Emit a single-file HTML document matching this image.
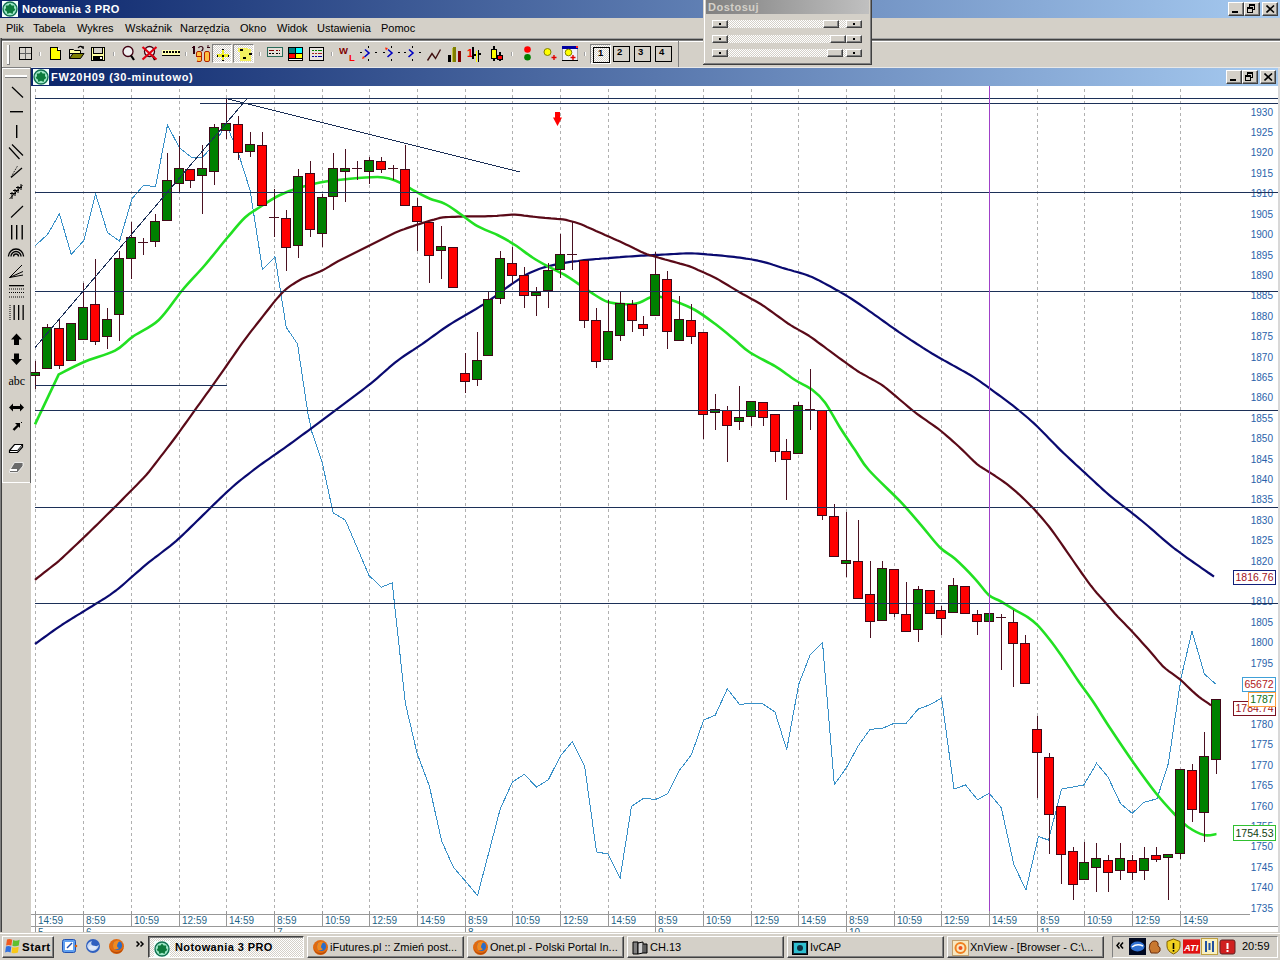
<!DOCTYPE html><html><head><meta charset="utf-8"><title>Notowania 3 PRO</title><style>
*{margin:0;padding:0;box-sizing:border-box}
html,body{width:1280px;height:960px;overflow:hidden}
body{position:relative;background:#D4D0C8;font-family:"Liberation Sans",sans-serif;font-size:11px;color:#000}
.a{position:absolute}
.btn{position:absolute;background:#D4D0C8;border-top:1px solid #fff;border-left:1px solid #fff;border-right:1px solid #404040;border-bottom:1px solid #404040;box-shadow:inset -1px -1px 0 #808080}
.tb{position:absolute;white-space:nowrap}
.menu span{position:absolute;top:22px;font-size:11px;line-height:13px}
.sep{position:absolute;width:2px;height:4px;top:52px;border-left:1px solid #808080;border-right:1px solid #fff}
.tk{position:absolute;top:936px;height:22px;background:#D4D0C8;border-top:1px solid #fff;border-left:1px solid #fff;border-right:1px solid #404040;border-bottom:1px solid #404040;box-shadow:inset -1px -1px 0 #808080;font-size:11px;line-height:20px;white-space:nowrap;overflow:hidden}
</style></head><body>
<div class="a" style="left:0;top:0;width:1280px;height:18px;background:linear-gradient(to right,#0A246A,#A6CAF0)"></div>
<svg class="a" style="left:2px;top:1px" width="16" height="16" viewBox="0 0 16 16"><rect width="16" height="16" fill="#F4FFFC"/><circle cx="8" cy="8" r="7" fill="#9FE8C8" stroke="#107050" stroke-width="1.4"/><path d="M8 2.6 L9.6 4.6 L12.2 4.4 L12 7 L13.4 9 L11.2 10.4 L10.6 13 L8 11.8 L5.4 13 L4.8 10.4 L2.6 9 L4 7 L3.8 4.4 L6.4 4.6Z" fill="#0C7A3C"/></svg>
<div class="tb" style="left:22px;top:2px;font-weight:bold;color:#fff;font-size:11px;line-height:14px;letter-spacing:0.4px">Notowania 3 PRO</div>
<div class="btn" style="left:1228px;top:2px;width:16px;height:14px"><div class="a" style="left:3px;top:8px;width:6px;height:2px;background:#000"></div></div><div class="btn" style="left:1244px;top:2px;width:16px;height:14px"><svg class="a" style="left:2px;top:1px" width="10" height="10" viewBox="0 0 10 10" shape-rendering="crispEdges"><rect x="2.5" y="0.5" width="5" height="5" fill="none" stroke="#000"/><rect x="2" y="1" width="6" height="1" fill="#000"/><rect x="0.5" y="3.5" width="5" height="5" fill="#D4D0C8" stroke="#000"/><rect x="0" y="4" width="6" height="1" fill="#000"/></svg></div><div class="btn" style="left:1262px;top:2px;width:16px;height:14px"><svg class="a" style="left:3px;top:2px" width="9" height="8" viewBox="0 0 9 8"><path d="M0.5 0.5L8 7.5M8 0.5L0.5 7.5" stroke="#000" stroke-width="1.6"/></svg></div>
<div class="menu">
<span style="left:6px">Plik</span>
<span style="left:33px">Tabela</span>
<span style="left:77px">Wykres</span>
<span style="left:125px">Wskaźnik</span>
<span style="left:180px">Narzędzia</span>
<span style="left:240px">Okno</span>
<span style="left:277px">Widok</span>
<span style="left:317px">Ustawienia</span>
<span style="left:381px">Pomoc</span>
</div>
<div class="a" style="left:0;top:38px;width:1280px;height:1px;background:#A0A0A0"></div>
<div class="a" style="left:0;top:39px;width:1280px;height:1px;background:#404040"></div>
<div class="a" style="left:0;top:40px;width:1280px;height:1px;background:#808080"></div>
<div class="a" style="left:0;top:67px;width:1280px;height:1px;background:#E8E8E8"></div>
<div class="a" style="left:2px;top:67px;width:29px;height:1px;background:#808080"></div>
<div class="a" style="left:2px;top:41px;width:1278px;height:1px;background:#fff"></div><div class="a" style="left:2px;top:41px;width:1px;height:26px;background:#fff"></div><div class="a" style="left:678px;top:41px;width:1px;height:26px;background:#808080"></div><div class="a" style="left:7px;top:45px;width:2px;height:19px;background:#fff"></div><div class="a" style="left:9px;top:45px;width:1px;height:20px;background:#808080"></div><div class="a" style="left:7px;top:64px;width:3px;height:1px;background:#808080"></div><svg class="a" style="left:19px;top:47px" width="13" height="13" viewBox="0 0 13 13" shape-rendering="crispEdges"><rect x="0" y="0" width="13" height="13" fill="#000"/><rect x="1" y="1" width="11" height="11" fill="#D8D4CC"/><rect x="6" y="1" width="1" height="11" fill="#606060"/><rect x="1" y="6" width="11" height="1" fill="#606060"/></svg><div class="a" style="left:39px;top:52px;width:1px;height:4px;background:#A0A0A0"></div><div class="a" style="left:40px;top:52px;width:1px;height:4px;background:#fff"></div><svg class="a" style="left:50px;top:47px" width="11" height="13" viewBox="0 0 11 13" shape-rendering="crispEdges"><path d="M0.5 0.5H7.5L10.5 3.5V12.5H0.5Z" fill="#FFFF00" stroke="#000"/><path d="M7.5 0.5V3.5H10.5" fill="#fff" stroke="#000"/></svg><svg class="a" style="left:69px;top:45px" width="16" height="15" viewBox="0 0 16 15"><path d="M9 3 Q11 0 14 2.5" stroke="#000" fill="none" stroke-width="1.2"/><path d="M12.5 2.5L14.5 3.5L14 1" stroke="#000" fill="none"/><path d="M0.5 4.5H4.5L5.5 5.5H11.5V8.5H0.5Z" fill="#FFFFA0" stroke="#000"/><path d="M0.5 13.5V4.5" stroke="#000"/><path d="M0.5 13.5L4 8.5H15L11.5 13.5Z" fill="#808000" stroke="#000"/></svg><svg class="a" style="left:91px;top:47px" width="14" height="14" viewBox="0 0 14 14" shape-rendering="crispEdges"><rect x="0" y="0" width="14" height="14" fill="#000"/><rect x="1" y="1" width="12" height="12" fill="#FFFFA0"/><rect x="3" y="1" width="8" height="5" fill="#D4D0C8"/><rect x="3" y="6" width="8" height="1" fill="#000"/><rect x="2" y="9" width="10" height="4" fill="#000"/><rect x="9" y="10" width="2" height="2" fill="#fff"/><rect x="2" y="1" width="1" height="6" fill="#000"/><rect x="11" y="1" width="1" height="6" fill="#000"/></svg><div class="a" style="left:113px;top:52px;width:1px;height:4px;background:#A0A0A0"></div><div class="a" style="left:114px;top:52px;width:1px;height:4px;background:#fff"></div><svg class="a" style="left:121px;top:45px" width="16" height="17" viewBox="0 0 16 17"><circle cx="7" cy="6.5" r="5" fill="#F0F0F0" stroke="#400010" stroke-width="1.3"/><path d="M10 10.5L13 15" stroke="#000" stroke-width="2.2"/></svg><svg class="a" style="left:141px;top:45px" width="18" height="17" viewBox="0 0 18 17"><circle cx="8.5" cy="6.5" r="5" fill="#F0F0F0" stroke="#400010" stroke-width="1.3"/><path d="M12 11L14 15" stroke="#000" stroke-width="2.2"/><path d="M1.5 2L15.5 14.5M15.5 2L1.5 14.5" stroke="#E00010" stroke-width="2.2"/></svg><svg class="a" style="left:162px;top:49px" width="18" height="8" viewBox="0 0 18 8" shape-rendering="crispEdges"><rect x="0" y="1" width="18" height="5" fill="#FFFFB0"/><rect x="1" y="2" width="2" height="2" fill="#000"/><rect x="4" y="2" width="2" height="2" fill="#000"/><rect x="7" y="2" width="2" height="2" fill="#000"/><rect x="10" y="2" width="2" height="2" fill="#000"/><rect x="13" y="2" width="2" height="2" fill="#000"/><rect x="16" y="2" width="2" height="2" fill="#000"/><rect x="0" y="6" width="18" height="1" fill="#000"/></svg><div class="a" style="left:185px;top:52px;width:1px;height:4px;background:#A0A0A0"></div><div class="a" style="left:186px;top:52px;width:1px;height:4px;background:#fff"></div><svg class="a" style="left:192px;top:45px" width="20" height="18" viewBox="0 0 20 18"><rect x="1" y="1" width="2" height="8" fill="#300010"/><rect x="0" y="2" width="1" height="1" fill="#300010"/><path d="M6.5 3Q7 1.5 9 1.5Q11 1.5 11 3.5Q11 5 9.5 6" stroke="#300010" stroke-width="1.2" fill="none"/><path d="M15.5 1.5L16.5 0.5M15 2.5H18" stroke="#300010" stroke-width="1.2" fill="none"/><rect x="4.5" y="6.5" width="5" height="10" rx="1.5" fill="#FFC040" stroke="#B02000"/><rect x="12.5" y="6.5" width="5" height="10" rx="1.5" fill="#FFC040" stroke="#B02000"/><rect x="5" y="11" width="4" height="1" fill="#B02000"/><rect x="4" y="12" width="1" height="4" fill="#D4D0C8"/></svg><div class="a" style="left:212px;top:44px;width:20px;height:19px;background:repeating-conic-gradient(#fff 0 25%,#D4D0C8 0 50%) 0 0/2px 2px;border-top:1px solid #808080;border-left:1px solid #808080;border-right:1px solid #fff;border-bottom:1px solid #fff"></div><svg class="a" style="left:212px;top:44px" width="20" height="19" viewBox="0 0 20 19" shape-rendering="crispEdges"><rect x="10" y="5" width="2" height="12" fill="#F0F020"/><rect x="5" y="10" width="12" height="3" fill="#F0F020"/><rect x="10" y="5" width="2" height="1" fill="#000"/><rect x="10" y="11" width="2" height="2" fill="#000"/><rect x="5" y="11" width="1" height="2" fill="#000"/><rect x="16" y="11" width="1" height="2" fill="#000"/><rect x="10" y="16" width="2" height="1" fill="#000"/></svg><div class="a" style="left:233px;top:44px;width:21px;height:19px;background:repeating-conic-gradient(#fff 0 25%,#D4D0C8 0 50%) 0 0/2px 2px;border-top:1px solid #808080;border-left:1px solid #808080;border-right:1px solid #fff;border-bottom:1px solid #fff"></div><svg class="a" style="left:236px;top:47px" width="16" height="15" viewBox="0 0 16 15" shape-rendering="crispEdges"><rect x="4" y="2" width="11" height="12" fill="#F4F060"/><rect x="2" y="1" width="10" height="4" fill="#F4F060"/><rect x="4" y="2" width="3" height="2" fill="#000"/><rect x="13" y="6" width="3" height="2" fill="#000"/><rect x="7" y="10" width="3" height="2" fill="#000"/></svg><div class="a" style="left:259px;top:52px;width:1px;height:4px;background:#A0A0A0"></div><div class="a" style="left:260px;top:52px;width:1px;height:4px;background:#fff"></div><svg class="a" style="left:267px;top:47px" width="16" height="10" viewBox="0 0 16 10" shape-rendering="crispEdges"><rect x="0" y="0" width="16" height="10" fill="#2A6A5A"/><rect x="1" y="1" width="14" height="8" fill="#E4E0D8"/><rect x="2" y="3" width="5" height="1" fill="#800000"/><rect x="9" y="3" width="2" height="1" fill="#800000"/><rect x="12" y="3" width="1" height="1" fill="#800000"/><rect x="2" y="6" width="2" height="1" fill="#000"/><rect x="5" y="6" width="2" height="1" fill="#000"/><rect x="9" y="6" width="2" height="1" fill="#000"/><rect x="12" y="6" width="1" height="1" fill="#000"/></svg><svg class="a" style="left:288px;top:47px" width="15" height="14" viewBox="0 0 15 14" shape-rendering="crispEdges"><rect x="0" y="0" width="15" height="14" fill="#000"/><rect x="1" y="1" width="6" height="5" fill="#008080"/><rect x="8" y="1" width="6" height="5" fill="#00FFFF"/><rect x="1" y="7" width="6" height="4" fill="#FF0000"/><rect x="8" y="7" width="6" height="4" fill="#FFFF00"/><rect x="1" y="12" width="13" height="1" fill="#fff"/></svg><svg class="a" style="left:309px;top:47px" width="15" height="14" viewBox="0 0 15 14" shape-rendering="crispEdges"><rect x="0" y="0" width="15" height="14" fill="#000"/><rect x="1" y="1" width="13" height="12" fill="#E8E4E0"/><rect x="3" y="3" width="2" height="1" fill="#008000"/><rect x="6" y="3" width="2" height="1" fill="#008000"/><rect x="9" y="3" width="4" height="1" fill="#008000"/><rect x="3" y="6" width="2" height="1" fill="#A02020"/><rect x="6" y="6" width="2" height="1" fill="#A02020"/><rect x="9" y="6" width="4" height="1" fill="#A02020"/><rect x="3" y="9" width="2" height="1" fill="#0000A0"/><rect x="6" y="9" width="2" height="1" fill="#0000A0"/><rect x="9" y="9" width="4" height="1" fill="#0000A0"/></svg><div class="a" style="left:331px;top:52px;width:1px;height:4px;background:#A0A0A0"></div><div class="a" style="left:332px;top:52px;width:1px;height:4px;background:#fff"></div><svg class="a" style="left:339px;top:46px" width="18" height="16" viewBox="0 0 18 16"><text x="0" y="8" font-family="Liberation Sans" font-weight="bold" font-size="9.5" fill="#800000">W</text><text x="10" y="15" font-family="Liberation Sans" font-weight="bold" font-size="9.5" fill="#FF0000">L</text></svg><svg class="a" style="left:360px;top:46px" width="17" height="15" viewBox="0 0 17 15"><path d="M5 3.5L9 7L4.5 11" stroke="#0000C0" stroke-width="1.6" fill="none"/><rect x="8" y="0" width="1" height="2" fill="#000"/><rect x="8" y="13" width="1" height="2" fill="#000"/><rect x="0" y="6" width="2" height="1" fill="#000"/><rect x="15" y="6" width="2" height="1" fill="#000"/><path d="M2 13L5 12L3 10Z" fill="#FF2000"/></svg><svg class="a" style="left:383px;top:46px" width="17" height="15" viewBox="0 0 17 15"><path d="M5 3.5L9 7L4.5 11" stroke="#0000C0" stroke-width="1.6" fill="none"/><rect x="8" y="0" width="1" height="2" fill="#000"/><rect x="8" y="13" width="1" height="2" fill="#000"/><rect x="0" y="6" width="2" height="1" fill="#000"/><rect x="15" y="6" width="2" height="1" fill="#000"/><path d="M2 1.5L5 2L3 4.5Z" fill="#FF2000"/></svg><svg class="a" style="left:404px;top:46px" width="17" height="15" viewBox="0 0 17 15"><path d="M5 3.5L9 7L4.5 11" stroke="#0000C0" stroke-width="1.6" fill="none"/><rect x="8" y="0" width="1" height="2" fill="#000"/><rect x="8" y="13" width="1" height="2" fill="#000"/><rect x="0" y="6" width="2" height="1" fill="#000"/><rect x="15" y="6" width="2" height="1" fill="#000"/></svg><svg class="a" style="left:426px;top:48px" width="16" height="14" viewBox="0 0 16 14"><path d="M1.5 12.5L6 5.5L9.5 10.5L14.5 1.5" stroke="#401010" stroke-width="1.4" fill="none"/></svg><svg class="a" style="left:447px;top:47px" width="16" height="16" viewBox="0 0 16 16" shape-rendering="crispEdges"><rect x="1" y="8" width="3" height="7" fill="#000"/><rect x="6" y="0" width="3" height="15" fill="#808000"/><rect x="5" y="1" width="1" height="14" fill="#C0C040"/><rect x="11" y="4" width="3" height="11" fill="#800000"/></svg><svg class="a" style="left:467px;top:46px" width="16" height="17" viewBox="0 0 16 17" shape-rendering="crispEdges"><text x="0" y="11" font-family="Liberation Sans" font-weight="bold" font-size="11" fill="#FF0000">1</text><rect x="5" y="1" width="2" height="12" fill="#000"/><rect x="7" y="8" width="2" height="2" fill="#000"/><rect x="9" y="5" width="1" height="11" fill="#FFFF00"/><rect x="11" y="4" width="1" height="12" fill="#000"/><rect x="12" y="7" width="2" height="2" fill="#000"/></svg><svg class="a" style="left:490px;top:46px" width="14" height="16" viewBox="0 0 14 16" shape-rendering="crispEdges"><rect x="3" y="0" width="2" height="15" fill="#000"/><rect x="1" y="3" width="6" height="10" fill="#000"/><rect x="2" y="4" width="4" height="8" fill="#FFFF00"/><rect x="9" y="6" width="2" height="9" fill="#000"/><rect x="7" y="9" width="6" height="5" fill="#000"/><rect x="8" y="10" width="4" height="3" fill="#FF0000"/></svg><div class="a" style="left:511px;top:52px;width:1px;height:4px;background:#A0A0A0"></div><div class="a" style="left:512px;top:52px;width:1px;height:4px;background:#fff"></div><svg class="a" style="left:523px;top:45px" width="9" height="17" viewBox="0 0 9 17"><circle cx="4.5" cy="4.5" r="3.3" fill="#FF0000"/><circle cx="4.5" cy="12.3" r="3.3" fill="#008000"/></svg><svg class="a" style="left:543px;top:47px" width="14" height="14" viewBox="0 0 14 14"><circle cx="4.5" cy="5" r="3.5" fill="#FFFF00" stroke="#808000"/><path d="M8.5 10.5H13.5M11 8V13" stroke="#E00000" stroke-width="1.4"/></svg><svg class="a" style="left:562px;top:46px" width="16" height="16" viewBox="0 0 16 16"><rect x="0" y="0" width="16" height="15" fill="#A0A0A0"/><rect x="1" y="1" width="14" height="13" fill="#F0F0F8"/><rect x="0" y="0" width="16" height="3" fill="#0000A0"/><rect x="14" y="0" width="2" height="2" fill="#FF2020"/><rect x="0" y="14" width="16" height="1" fill="#000"/><circle cx="6.5" cy="6.5" r="3.3" fill="#FFFF00" stroke="#808000"/><path d="M8.5 11.5H13.5M11 9V14" stroke="#E00000" stroke-width="1.4"/></svg><div class="a" style="left:584px;top:52px;width:1px;height:4px;background:#A0A0A0"></div><div class="a" style="left:585px;top:52px;width:1px;height:4px;background:#fff"></div><div class="a" style="left:590px;top:44px;width:21px;height:20px;background:repeating-conic-gradient(#fff 0 25%,#D4D0C8 0 50%) 0 0/2px 2px;border-top:1px solid #808080;border-left:1px solid #808080;border-right:1px solid #fff;border-bottom:1px solid #fff"></div><svg class="a" style="left:593px;top:47px" width="17" height="16" viewBox="0 0 17 16"><rect x="0.5" y="0.5" width="16" height="15" fill="none" stroke="#000"/><text x="5" y="9" font-family="Liberation Sans" font-weight="bold" font-size="9.5" fill="#000">1</text></svg><svg class="a" style="left:613px;top:46px" width="17" height="16" viewBox="0 0 17 16"><rect x="0.5" y="0.5" width="16" height="15" fill="none" stroke="#000"/><text x="4" y="9" font-family="Liberation Sans" font-weight="bold" font-size="9.5" fill="#000">2</text></svg><svg class="a" style="left:634px;top:46px" width="17" height="16" viewBox="0 0 17 16"><rect x="0.5" y="0.5" width="16" height="15" fill="none" stroke="#000"/><text x="4" y="9" font-family="Liberation Sans" font-weight="bold" font-size="9.5" fill="#000">3</text></svg><svg class="a" style="left:655px;top:46px" width="17" height="16" viewBox="0 0 17 16"><rect x="0.5" y="0.5" width="16" height="15" fill="none" stroke="#000"/><text x="4" y="9" font-family="Liberation Sans" font-weight="bold" font-size="9.5" fill="#000">4</text></svg>
<div class="a" style="left:0;top:38px;width:1px;height:895px;background:#808080"></div>
<div class="a" style="left:1px;top:38px;width:1px;height:895px;background:#404040"></div>
<div class="a" style="left:2px;top:68px;width:29px;height:415px;background:#D4D0C8"></div><div class="a" style="left:2px;top:68px;width:1px;height:415px;background:#fff"></div><div class="a" style="left:2px;top:68px;width:28px;height:1px;background:#fff"></div><div class="a" style="left:30px;top:68px;width:1px;height:415px;background:#606060"></div><div class="a" style="left:2px;top:482px;width:28px;height:1px;background:#fff"></div><div class="a" style="left:5px;top:75px;width:22px;height:1px;background:#fff"></div><div class="a" style="left:5px;top:76px;width:22px;height:1px;background:#fff"></div><div class="a" style="left:5px;top:77px;width:22px;height:1px;background:#808080"></div><svg class="a" style="left:0;top:0" width="31" height="483" viewBox="0 0 31 483"><path d="M12 87L23 97.5" stroke="#000" stroke-width="1.2"/><rect x="10" y="111" width="13" height="1.4" fill="#000"/><rect x="16" y="125" width="1.4" height="13" fill="#000"/><path d="M9 147.5L19.5 159M12 144.5L23 155.5" stroke="#000" stroke-width="1.2"/><path d="M11 177.5L22 168" stroke="#000" stroke-width="1.2"/><path d="M11 177L17.5 166" stroke="#000" stroke-dasharray="1,1"/><path d="M9.5 199L22.5 185M10 193.5H16M13 190.5H19M16 187.5H22M12 199V192M15 196V189M18 193V186M21 190V184" stroke="#000" stroke-width="1"/><path d="M11 217.5L23 206" stroke="#000" stroke-width="1.1"/><rect x="11" y="225" width="1.4" height="14.5" fill="#000"/><rect x="16" y="225" width="1.4" height="14.5" fill="#000"/><rect x="21.5" y="225" width="1.4" height="14.5" fill="#000"/><path d="M8.5 256.5A7.5 7.5 0 0 1 23.5 256.5M11 256.5A5 5 0 0 1 21 256.5M13.5 256.5A2.5 2.5 0 0 1 18.5 256.5" stroke="#000" stroke-width="1.3" fill="none"/><path d="M9.5 277.5L22 265M9.5 277.5L23 271.5M9.5 277.5L23 275" stroke="#000" stroke-width="1"/><rect x="9" y="285" width="15" height="1.3" fill="#000"/><path d="M9 289H24M9 292.5H24M9 297H24" stroke="#000" stroke-dasharray="1,1"/><path d="M10 305V320" stroke="#000" stroke-dasharray="1,1"/><rect x="13.5" y="305" width="1.3" height="15" fill="#000"/><rect x="18" y="305" width="1.3" height="15" fill="#000"/><rect x="22.5" y="305" width="1.3" height="15" fill="#000"/><path d="M16.5 333.5L22 339.5H19V345H14V339.5H11Z" fill="#000"/><path d="M16.5 365L22 359H19V353.5H14V359H11Z" fill="#000"/><text x="8.5" y="384.5" font-family="Liberation Serif" font-size="12" fill="#000">abc</text><path d="M9 407.5L13 403.5V406H20V403.5L24 407.5L20 411.5V409H13V411.5Z" fill="#000"/><path d="M13.5 430L19 424.5" stroke="#000" stroke-width="2.4"/><path d="M15 423H20V428Z" fill="#000"/><rect x="21" y="422" width="1" height="1" fill="#000"/><path d="M9.5 450.5L14.5 444.5H22.5V447L17.5 452.5H9.5Z" fill="#fff" stroke="#000" stroke-width="1.2"/><path d="M9.5 450.5H17.5L22.5 444.5" stroke="#000" fill="none"/><path d="M9.5 470.5L14.5 462.5H23L23 466L17.5 472.5H9.5Z" fill="#6A6A6A" stroke="#fff" stroke-width="0.8"/><rect x="10" y="469" width="7" height="2" fill="#fff"/></svg>
<div class="a" style="left:31px;top:68px;width:1247px;height:18px;background:linear-gradient(to right,#0A246A,#A6CAF0)"></div>
<svg class="a" style="left:33px;top:69px" width="16" height="16" viewBox="0 0 16 16"><rect width="16" height="16" fill="#F4FFFC"/><circle cx="8" cy="8" r="7" fill="#9FE8C8" stroke="#107050" stroke-width="1.4"/><path d="M8 2.6 L9.6 4.6 L12.2 4.4 L12 7 L13.4 9 L11.2 10.4 L10.6 13 L8 11.8 L5.4 13 L4.8 10.4 L2.6 9 L4 7 L3.8 4.4 L6.4 4.6Z" fill="#0C7A3C"/></svg>
<div class="tb" style="left:51px;top:70px;font-weight:bold;color:#fff;font-size:11px;line-height:14px;letter-spacing:0.7px">FW20H09 (30-minutowo)</div>
<div class="btn" style="left:1226px;top:70px;width:16px;height:14px"><div class="a" style="left:3px;top:8px;width:6px;height:2px;background:#000"></div></div><div class="btn" style="left:1242px;top:70px;width:16px;height:14px"><svg class="a" style="left:2px;top:1px" width="10" height="10" viewBox="0 0 10 10" shape-rendering="crispEdges"><rect x="2.5" y="0.5" width="5" height="5" fill="none" stroke="#000"/><rect x="2" y="1" width="6" height="1" fill="#000"/><rect x="0.5" y="3.5" width="5" height="5" fill="#D4D0C8" stroke="#000"/><rect x="0" y="4" width="6" height="1" fill="#000"/></svg></div><div class="btn" style="left:1260px;top:70px;width:16px;height:14px"><svg class="a" style="left:3px;top:2px" width="9" height="8" viewBox="0 0 9 8"><path d="M0.5 0.5L8 7.5M8 0.5L0.5 7.5" stroke="#000" stroke-width="1.6"/></svg></div>
<svg class="a" style="left:31px;top:86px" width="1247" height="847" viewBox="31 86 1247 847"><rect x="31" y="86" width="1247" height="847" fill="#fff"/><line x1="35.5" y1="89" x2="35.5" y2="914" stroke="#B0B0B0" stroke-dasharray="3,3" shape-rendering="crispEdges"/><line x1="83.5" y1="89" x2="83.5" y2="914" stroke="#B0B0B0" stroke-dasharray="3,3" shape-rendering="crispEdges"/><line x1="131.5" y1="89" x2="131.5" y2="914" stroke="#B0B0B0" stroke-dasharray="3,3" shape-rendering="crispEdges"/><line x1="179.5" y1="89" x2="179.5" y2="914" stroke="#B0B0B0" stroke-dasharray="3,3" shape-rendering="crispEdges"/><line x1="226.5" y1="89" x2="226.5" y2="914" stroke="#B0B0B0" stroke-dasharray="3,3" shape-rendering="crispEdges"/><line x1="274.5" y1="89" x2="274.5" y2="914" stroke="#B0B0B0" stroke-dasharray="3,3" shape-rendering="crispEdges"/><line x1="322.5" y1="89" x2="322.5" y2="914" stroke="#B0B0B0" stroke-dasharray="3,3" shape-rendering="crispEdges"/><line x1="369.5" y1="89" x2="369.5" y2="914" stroke="#B0B0B0" stroke-dasharray="3,3" shape-rendering="crispEdges"/><line x1="417.5" y1="89" x2="417.5" y2="914" stroke="#B0B0B0" stroke-dasharray="3,3" shape-rendering="crispEdges"/><line x1="465.5" y1="89" x2="465.5" y2="914" stroke="#B0B0B0" stroke-dasharray="3,3" shape-rendering="crispEdges"/><line x1="512.5" y1="89" x2="512.5" y2="914" stroke="#B0B0B0" stroke-dasharray="3,3" shape-rendering="crispEdges"/><line x1="560.5" y1="89" x2="560.5" y2="914" stroke="#B0B0B0" stroke-dasharray="3,3" shape-rendering="crispEdges"/><line x1="608.5" y1="89" x2="608.5" y2="914" stroke="#B0B0B0" stroke-dasharray="3,3" shape-rendering="crispEdges"/><line x1="655.5" y1="89" x2="655.5" y2="914" stroke="#B0B0B0" stroke-dasharray="3,3" shape-rendering="crispEdges"/><line x1="703.5" y1="89" x2="703.5" y2="914" stroke="#B0B0B0" stroke-dasharray="3,3" shape-rendering="crispEdges"/><line x1="751.5" y1="89" x2="751.5" y2="914" stroke="#B0B0B0" stroke-dasharray="3,3" shape-rendering="crispEdges"/><line x1="798.5" y1="89" x2="798.5" y2="914" stroke="#B0B0B0" stroke-dasharray="3,3" shape-rendering="crispEdges"/><line x1="846.5" y1="89" x2="846.5" y2="914" stroke="#B0B0B0" stroke-dasharray="3,3" shape-rendering="crispEdges"/><line x1="894.5" y1="89" x2="894.5" y2="914" stroke="#B0B0B0" stroke-dasharray="3,3" shape-rendering="crispEdges"/><line x1="941.5" y1="89" x2="941.5" y2="914" stroke="#B0B0B0" stroke-dasharray="3,3" shape-rendering="crispEdges"/><line x1="989.5" y1="89" x2="989.5" y2="914" stroke="#B0B0B0" stroke-dasharray="3,3" shape-rendering="crispEdges"/><line x1="1037.5" y1="89" x2="1037.5" y2="914" stroke="#B0B0B0" stroke-dasharray="3,3" shape-rendering="crispEdges"/><line x1="1084.5" y1="89" x2="1084.5" y2="914" stroke="#B0B0B0" stroke-dasharray="3,3" shape-rendering="crispEdges"/><line x1="1132.5" y1="89" x2="1132.5" y2="914" stroke="#B0B0B0" stroke-dasharray="3,3" shape-rendering="crispEdges"/><line x1="1180.5" y1="89" x2="1180.5" y2="914" stroke="#B0B0B0" stroke-dasharray="3,3" shape-rendering="crispEdges"/><text x="1273" y="115.6" text-anchor="end" font-family='Liberation Sans, sans-serif' font-size="10" fill="#2862AA">1930</text><text x="1273" y="136.0" text-anchor="end" font-family='Liberation Sans, sans-serif' font-size="10" fill="#2862AA">1925</text><text x="1273" y="156.4" text-anchor="end" font-family='Liberation Sans, sans-serif' font-size="10" fill="#2862AA">1920</text><text x="1273" y="176.8" text-anchor="end" font-family='Liberation Sans, sans-serif' font-size="10" fill="#2862AA">1915</text><text x="1273" y="197.2" text-anchor="end" font-family='Liberation Sans, sans-serif' font-size="10" fill="#2862AA">1910</text><text x="1273" y="217.7" text-anchor="end" font-family='Liberation Sans, sans-serif' font-size="10" fill="#2862AA">1905</text><text x="1273" y="238.1" text-anchor="end" font-family='Liberation Sans, sans-serif' font-size="10" fill="#2862AA">1900</text><text x="1273" y="258.5" text-anchor="end" font-family='Liberation Sans, sans-serif' font-size="10" fill="#2862AA">1895</text><text x="1273" y="278.9" text-anchor="end" font-family='Liberation Sans, sans-serif' font-size="10" fill="#2862AA">1890</text><text x="1273" y="299.3" text-anchor="end" font-family='Liberation Sans, sans-serif' font-size="10" fill="#2862AA">1885</text><text x="1273" y="319.7" text-anchor="end" font-family='Liberation Sans, sans-serif' font-size="10" fill="#2862AA">1880</text><text x="1273" y="340.1" text-anchor="end" font-family='Liberation Sans, sans-serif' font-size="10" fill="#2862AA">1875</text><text x="1273" y="360.5" text-anchor="end" font-family='Liberation Sans, sans-serif' font-size="10" fill="#2862AA">1870</text><text x="1273" y="380.9" text-anchor="end" font-family='Liberation Sans, sans-serif' font-size="10" fill="#2862AA">1865</text><text x="1273" y="401.3" text-anchor="end" font-family='Liberation Sans, sans-serif' font-size="10" fill="#2862AA">1860</text><text x="1273" y="421.8" text-anchor="end" font-family='Liberation Sans, sans-serif' font-size="10" fill="#2862AA">1855</text><text x="1273" y="442.2" text-anchor="end" font-family='Liberation Sans, sans-serif' font-size="10" fill="#2862AA">1850</text><text x="1273" y="462.6" text-anchor="end" font-family='Liberation Sans, sans-serif' font-size="10" fill="#2862AA">1845</text><text x="1273" y="483.0" text-anchor="end" font-family='Liberation Sans, sans-serif' font-size="10" fill="#2862AA">1840</text><text x="1273" y="503.4" text-anchor="end" font-family='Liberation Sans, sans-serif' font-size="10" fill="#2862AA">1835</text><text x="1273" y="523.8" text-anchor="end" font-family='Liberation Sans, sans-serif' font-size="10" fill="#2862AA">1830</text><text x="1273" y="544.2" text-anchor="end" font-family='Liberation Sans, sans-serif' font-size="10" fill="#2862AA">1825</text><text x="1273" y="564.6" text-anchor="end" font-family='Liberation Sans, sans-serif' font-size="10" fill="#2862AA">1820</text><text x="1273" y="585.0" text-anchor="end" font-family='Liberation Sans, sans-serif' font-size="10" fill="#2862AA">1815</text><text x="1273" y="605.4" text-anchor="end" font-family='Liberation Sans, sans-serif' font-size="10" fill="#2862AA">1810</text><text x="1273" y="625.9" text-anchor="end" font-family='Liberation Sans, sans-serif' font-size="10" fill="#2862AA">1805</text><text x="1273" y="646.3" text-anchor="end" font-family='Liberation Sans, sans-serif' font-size="10" fill="#2862AA">1800</text><text x="1273" y="666.7" text-anchor="end" font-family='Liberation Sans, sans-serif' font-size="10" fill="#2862AA">1795</text><text x="1273" y="687.1" text-anchor="end" font-family='Liberation Sans, sans-serif' font-size="10" fill="#2862AA">1790</text><text x="1273" y="707.5" text-anchor="end" font-family='Liberation Sans, sans-serif' font-size="10" fill="#2862AA">1785</text><text x="1273" y="727.9" text-anchor="end" font-family='Liberation Sans, sans-serif' font-size="10" fill="#2862AA">1780</text><text x="1273" y="748.3" text-anchor="end" font-family='Liberation Sans, sans-serif' font-size="10" fill="#2862AA">1775</text><text x="1273" y="768.7" text-anchor="end" font-family='Liberation Sans, sans-serif' font-size="10" fill="#2862AA">1770</text><text x="1273" y="789.1" text-anchor="end" font-family='Liberation Sans, sans-serif' font-size="10" fill="#2862AA">1765</text><text x="1273" y="809.5" text-anchor="end" font-family='Liberation Sans, sans-serif' font-size="10" fill="#2862AA">1760</text><text x="1273" y="830.0" text-anchor="end" font-family='Liberation Sans, sans-serif' font-size="10" fill="#2862AA">1755</text><text x="1273" y="850.4" text-anchor="end" font-family='Liberation Sans, sans-serif' font-size="10" fill="#2862AA">1750</text><text x="1273" y="870.8" text-anchor="end" font-family='Liberation Sans, sans-serif' font-size="10" fill="#2862AA">1745</text><text x="1273" y="891.2" text-anchor="end" font-family='Liberation Sans, sans-serif' font-size="10" fill="#2862AA">1740</text><text x="1273" y="911.6" text-anchor="end" font-family='Liberation Sans, sans-serif' font-size="10" fill="#2862AA">1735</text><polyline points="35.5,245.5 47.5,234.5 59.5,213.8 71.2,254.5 83.8,240.5 95.5,193.8 107.5,232.5 119.5,241.2 132.0,198.8 143.8,185.0 155.5,187.0 167.5,125.0 179.5,148.0 191.2,157.0 202.5,157.0 214.0,145.0 226.0,124.0 238.0,152.0 250.0,190.0 262.5,269.7 275.0,256.7 286.2,327.2 297.5,344.0 307.8,412.5 311.6,431.2 321.9,461.2 333.1,512.8 345.4,520.2 369.0,575.4 381.2,587.2 392.2,582.8 405.3,703.0 417.1,753.4 429.4,786.2 441.6,841.0 453.4,867.2 466.6,882.5 477.5,895.6 500.2,809.0 512.5,781.9 524.3,774.4 536.6,787.1 548.4,779.7 560.6,755.6 572.4,741.6 584.7,766.6 596.5,851.9 607.9,854.0 620.1,878.1 631.5,806.4 643.6,798.2 655.4,799.5 667.6,793.9 679.0,771.0 691.5,754.5 703.7,720.0 715.2,715.2 727.3,688.9 739.8,704.7 751.2,703.0 762.7,703.7 774.9,711.9 786.7,749.6 798.8,684.0 810.3,654.5 822.5,642.3 834.3,784.7 846.4,767.7 857.9,746.3 870.0,729.3 882.5,728.3 894.0,723.4 906.1,723.4 918.0,709.2 930.0,704.7 941.6,698.0 954.0,789.0 965.5,785.0 977.7,799.8 989.1,793.2 1001.3,807.7 1013.8,864.5 1025.9,890.0 1038.4,836.6 1048.5,840.0 1061.6,789.0 1073.0,787.0 1083.8,785.0 1096.6,763.3 1108.0,777.0 1120.4,803.4 1132.2,813.3 1144.0,802.3 1157.0,798.8 1168.4,763.3 1181.0,678.0 1192.0,631.2 1204.4,674.0 1215.6,684.0" fill="none" stroke="#3890C8" stroke-width="1" stroke-linejoin="miter" shape-rendering="crispEdges"/><path d="M35.0 644.0L38.0 641.8L41.0 639.6L44.0 637.5L47.0 635.3L50.0 633.1L53.0 631.0L56.0 628.9L59.0 626.8L62.0 624.8L65.0 622.9L68.0 621.0L71.0 619.1L74.0 617.3L77.0 615.4L80.0 613.6L83.0 611.7L86.0 609.9L89.0 608.0L92.0 606.2L95.0 604.3L98.0 602.5L101.0 600.6L104.0 598.8L107.0 596.8L110.0 594.8L113.0 592.7L116.0 590.5L119.0 588.1L122.0 585.6L125.0 583.0L128.0 580.3L131.0 577.7L134.0 575.0L137.0 572.4L140.0 569.8L143.0 567.2L146.0 564.7L149.0 562.2L152.0 559.9L155.0 557.5L158.0 555.3L161.0 553.0L164.0 550.7L167.0 548.4L170.0 546.1L173.0 543.6L176.0 541.1L179.0 538.4L182.0 535.6L185.0 532.8L188.0 529.9L191.0 526.9L194.0 524.0L197.0 521.0L200.0 518.1L203.0 515.1L206.0 512.2L209.0 509.2L212.0 506.3L215.0 503.4L218.0 500.5L221.0 497.6L224.0 494.8L227.0 491.9L230.0 489.2L233.0 486.5L236.0 483.9L239.0 481.4L242.0 479.0L245.0 476.6L248.0 474.3L251.0 472.0L254.0 469.7L257.0 467.4L260.0 465.2L263.0 463.0L266.0 460.9L269.0 458.8L272.0 456.7L275.0 454.6L278.0 452.5L281.0 450.4L284.0 448.3L287.0 446.1L290.0 444.0L293.0 441.8L296.0 439.6L299.0 437.4L302.0 435.2L305.0 433.0L308.0 430.8L311.0 428.6L314.0 426.3L317.0 424.1L320.0 421.9L323.0 419.6L326.0 417.4L329.0 415.1L332.0 412.9L335.0 410.6L338.0 408.4L341.0 406.1L344.0 403.9L347.0 401.6L350.0 399.4L353.0 397.1L356.0 394.9L359.0 392.6L362.0 390.3L365.0 388.0L368.0 385.7L371.0 383.3L374.0 380.8L377.0 378.3L380.0 375.7L383.0 373.0L386.0 370.4L389.0 367.7L392.0 365.2L395.0 362.7L398.0 360.3L401.0 358.1L404.0 356.0L407.0 354.0L410.0 352.0L413.0 350.1L416.0 348.1L419.0 346.1L422.0 344.1L425.0 342.0L428.0 339.8L431.0 337.7L434.0 335.5L437.0 333.3L440.0 331.1L443.0 329.0L446.0 327.0L449.0 325.0L452.0 323.1L455.0 321.3L458.0 319.5L461.0 317.7L464.0 316.0L467.0 314.2L470.0 312.5L473.0 310.7L476.0 309.0L479.0 307.1L482.0 305.3L485.0 303.3L488.0 301.3L491.0 299.2L494.0 297.1L497.0 294.9L500.0 292.6L503.0 290.4L506.0 288.2L509.0 286.0L512.0 283.8L515.0 281.8L518.0 279.8L521.0 277.8L524.0 276.0L527.0 274.3L530.0 272.8L533.0 271.4L536.0 270.2L539.0 269.0L542.0 268.0L545.0 267.1L548.0 266.3L551.0 265.6L554.0 264.9L557.0 264.3L560.0 263.7L563.0 263.1L566.0 262.6L569.0 262.1L572.0 261.7L575.0 261.3L578.0 261.0L581.0 260.6L584.0 260.2L587.0 259.9L590.0 259.6L593.0 259.3L596.0 259.0L599.0 258.8L602.0 258.5L605.0 258.3L608.0 258.1L611.0 257.8L614.0 257.6L617.0 257.4L620.0 257.2L623.0 256.9L626.0 256.7L629.0 256.5L632.0 256.3L635.0 256.1L638.0 255.9L641.0 255.7L644.0 255.6L647.0 255.4L650.0 255.3L653.0 255.1L656.0 254.9L659.0 254.8L662.0 254.6L665.0 254.5L668.0 254.3L671.0 254.1L674.0 254.0L677.0 253.8L680.0 253.6L683.0 253.5L686.0 253.4L689.0 253.4L692.0 253.4L695.0 253.5L698.0 253.7L701.0 253.9L704.0 254.1L707.0 254.4L710.0 254.6L713.0 254.9L716.0 255.1L719.0 255.4L722.0 255.7L725.0 256.0L728.0 256.3L731.0 256.6L734.0 256.9L737.0 257.3L740.0 257.7L743.0 258.1L746.0 258.6L749.0 259.0L752.0 259.5L755.0 260.1L758.0 260.7L761.0 261.4L764.0 262.1L767.0 262.9L770.0 263.8L773.0 264.8L776.0 265.7L779.0 266.7L782.0 267.7L785.0 268.6L788.0 269.5L791.0 270.3L794.0 271.2L797.0 272.0L800.0 272.9L803.0 273.8L806.0 274.8L809.0 275.9L812.0 277.1L815.0 278.4L818.0 279.9L821.0 281.5L824.0 283.1L827.0 284.7L830.0 286.3L833.0 288.0L836.0 289.7L839.0 291.3L842.0 293.1L845.0 294.8L848.0 296.6L851.0 298.5L854.0 300.5L857.0 302.5L860.0 304.5L863.0 306.6L866.0 308.7L869.0 310.8L872.0 312.9L875.0 315.1L878.0 317.2L881.0 319.3L884.0 321.5L887.0 323.7L890.0 325.8L893.0 327.9L896.0 330.0L899.0 332.1L902.0 334.1L905.0 336.1L908.0 338.1L911.0 340.1L914.0 342.0L917.0 344.0L920.0 345.9L923.0 347.9L926.0 349.8L929.0 351.6L932.0 353.5L935.0 355.2L938.0 357.0L941.0 358.7L944.0 360.4L947.0 362.0L950.0 363.7L953.0 365.4L956.0 367.0L959.0 368.7L962.0 370.4L965.0 372.0L968.0 373.8L971.0 375.5L974.0 377.4L977.0 379.4L980.0 381.4L983.0 383.6L986.0 385.7L989.0 387.9L992.0 390.1L995.0 392.3L998.0 394.5L1001.0 396.7L1004.0 398.9L1007.0 401.1L1010.0 403.4L1013.0 405.7L1016.0 408.1L1019.0 410.5L1022.0 413.0L1025.0 415.5L1028.0 418.0L1031.0 420.7L1034.0 423.4L1037.0 426.3L1040.0 429.2L1043.0 432.2L1046.0 435.3L1049.0 438.4L1052.0 441.5L1055.0 444.6L1058.0 447.6L1061.0 450.6L1064.0 453.5L1067.0 456.3L1070.0 459.1L1073.0 461.9L1076.0 464.7L1079.0 467.4L1082.0 470.2L1085.0 472.9L1088.0 475.7L1091.0 478.5L1094.0 481.3L1097.0 484.1L1100.0 486.8L1103.0 489.6L1106.0 492.3L1109.0 494.9L1112.0 497.4L1115.0 499.8L1118.0 502.2L1121.0 504.5L1124.0 506.8L1127.0 509.1L1130.0 511.4L1133.0 513.8L1136.0 516.2L1139.0 518.6L1142.0 521.0L1145.0 523.5L1148.0 526.0L1151.0 528.6L1154.0 531.2L1157.0 533.8L1160.0 536.5L1163.0 539.1L1166.0 541.7L1169.0 544.2L1172.0 546.6L1175.0 549.0L1178.0 551.2L1181.0 553.4L1184.0 555.6L1187.0 557.8L1190.0 559.9L1193.0 562.0L1196.0 564.1L1199.0 566.2L1202.0 568.3L1205.0 570.4L1208.0 572.5L1211.0 574.5L1214.0 576.6" fill="none" stroke="#0A0A70" stroke-width="2.2" stroke-linejoin="round"/><path d="M35.0 579.8L38.0 577.4L41.0 575.1L44.0 572.7L47.0 570.4L50.0 568.0L53.0 565.7L56.0 563.3L59.0 560.8L62.0 558.1L65.0 555.3L68.0 552.5L71.0 549.6L74.0 546.8L77.0 544.0L80.0 541.1L83.0 538.3L86.0 535.4L89.0 532.5L92.0 529.5L95.0 526.6L98.0 523.7L101.0 520.7L104.0 517.8L107.0 514.8L110.0 511.9L113.0 508.9L116.0 506.0L119.0 502.9L122.0 499.9L125.0 496.8L128.0 493.8L131.0 490.7L134.0 487.7L137.0 484.7L140.0 481.6L143.0 478.5L146.0 475.3L149.0 471.7L152.0 467.9L155.0 464.0L158.0 460.1L161.0 456.2L164.0 452.3L167.0 448.4L170.0 444.5L173.0 440.5L176.0 436.5L179.0 432.4L182.0 428.2L185.0 424.0L188.0 419.8L191.0 415.6L194.0 411.4L197.0 407.2L200.0 403.1L203.0 398.9L206.0 394.7L209.0 390.6L212.0 386.4L215.0 382.2L218.0 377.9L221.0 373.6L224.0 369.3L227.0 365.0L230.0 360.6L233.0 356.3L236.0 352.0L239.0 347.7L242.0 343.4L245.0 339.3L248.0 335.3L251.0 331.4L254.0 327.6L257.0 323.8L260.0 320.0L263.0 316.1L266.0 312.3L269.0 308.5L272.0 304.6L275.0 300.9L278.0 297.4L281.0 294.1L284.0 291.0L287.0 288.4L290.0 286.2L293.0 284.2L296.0 282.3L299.0 280.5L302.0 278.8L305.0 277.5L308.0 276.3L311.0 275.2L314.0 274.0L317.0 272.8L320.0 271.6L323.0 270.1L326.0 268.4L329.0 266.6L332.0 264.7L335.0 263.0L338.0 261.3L341.0 259.8L344.0 258.3L347.0 256.8L350.0 255.3L353.0 253.8L356.0 252.3L359.0 250.8L362.0 249.3L365.0 247.8L368.0 246.3L371.0 244.8L374.0 243.3L377.0 241.8L380.0 240.3L383.0 238.8L386.0 237.3L389.0 235.8L392.0 234.3L395.0 232.8L398.0 231.4L401.0 230.2L404.0 229.2L407.0 228.1L410.0 227.1L413.0 226.1L416.0 225.0L419.0 224.1L422.0 223.1L425.0 222.2L428.0 221.3L431.0 220.4L434.0 219.6L437.0 218.7L440.0 217.9L443.0 217.4L446.0 217.1L449.0 217.0L452.0 216.9L455.0 216.8L458.0 216.6L461.0 216.6L464.0 216.5L467.0 216.4L470.0 216.4L473.0 216.4L476.0 216.3L479.0 216.3L482.0 216.3L485.0 216.3L488.0 216.2L491.0 216.1L494.0 216.0L497.0 215.8L500.0 215.5L503.0 215.3L506.0 215.1L509.0 214.9L512.0 214.7L515.0 214.7L518.0 214.9L521.0 215.2L524.0 215.6L527.0 215.9L530.0 216.3L533.0 216.7L536.0 217.0L539.0 217.3L542.0 217.6L545.0 217.9L548.0 218.1L551.0 218.4L554.0 218.6L557.0 218.9L560.0 219.1L563.0 219.4L566.0 219.9L569.0 220.7L572.0 221.5L575.0 222.3L578.0 223.3L581.0 224.3L584.0 225.5L587.0 226.9L590.0 228.2L593.0 229.5L596.0 230.9L599.0 232.2L602.0 233.5L605.0 234.9L608.0 236.2L611.0 237.6L614.0 238.9L617.0 240.3L620.0 241.6L623.0 243.0L626.0 244.4L629.0 245.8L632.0 247.3L635.0 248.8L638.0 250.2L641.0 251.7L644.0 253.1L647.0 254.2L650.0 255.2L653.0 256.0L656.0 256.9L659.0 257.8L662.0 258.6L665.0 259.5L668.0 260.3L671.0 261.1L674.0 261.9L677.0 262.7L680.0 263.6L683.0 264.4L686.0 265.2L689.0 266.1L692.0 267.2L695.0 268.5L698.0 269.9L701.0 271.2L704.0 272.6L707.0 273.9L710.0 275.3L713.0 276.7L716.0 278.2L719.0 279.9L722.0 281.7L725.0 283.5L728.0 285.3L731.0 287.1L734.0 288.9L737.0 290.7L740.0 292.5L743.0 294.2L746.0 295.8L749.0 297.5L752.0 299.2L755.0 300.8L758.0 302.5L761.0 304.3L764.0 306.2L767.0 308.3L770.0 310.5L773.0 312.6L776.0 314.8L779.0 317.0L782.0 319.2L785.0 321.4L788.0 323.5L791.0 325.4L794.0 327.2L797.0 328.9L800.0 330.6L803.0 332.3L806.0 334.0L809.0 335.8L812.0 337.8L815.0 340.0L818.0 342.3L821.0 344.5L824.0 346.7L827.0 349.0L830.0 351.2L833.0 353.4L836.0 355.6L839.0 357.8L842.0 360.0L845.0 362.2L848.0 364.3L851.0 366.5L854.0 368.7L857.0 370.7L860.0 372.6L863.0 374.3L866.0 375.9L869.0 377.6L872.0 379.2L875.0 380.9L878.0 382.6L881.0 384.4L884.0 386.5L887.0 388.8L890.0 391.3L893.0 393.9L896.0 396.4L899.0 399.0L902.0 401.5L905.0 404.0L908.0 406.6L911.0 409.1L914.0 411.5L917.0 413.8L920.0 416.0L923.0 418.1L926.0 420.2L929.0 422.3L932.0 424.4L935.0 426.5L938.0 428.7L941.0 431.0L944.0 433.5L947.0 436.1L950.0 438.7L953.0 441.4L956.0 444.0L959.0 446.7L962.0 449.6L965.0 452.5L968.0 455.5L971.0 458.5L974.0 461.4L977.0 464.1L980.0 466.4L983.0 468.3L986.0 470.1L989.0 472.0L992.0 473.9L995.0 475.8L998.0 477.8L1001.0 479.9L1004.0 482.0L1007.0 484.2L1010.0 486.7L1013.0 489.2L1016.0 491.7L1019.0 494.3L1022.0 497.1L1025.0 500.0L1028.0 503.0L1031.0 506.0L1034.0 509.1L1037.0 512.4L1040.0 515.8L1043.0 519.3L1046.0 522.9L1049.0 526.5L1052.0 530.5L1055.0 534.7L1058.0 538.9L1061.0 543.2L1064.0 547.5L1067.0 551.8L1070.0 556.1L1073.0 560.5L1076.0 564.8L1079.0 569.2L1082.0 573.5L1085.0 577.7L1088.0 581.8L1091.0 585.8L1094.0 589.6L1097.0 593.2L1100.0 596.6L1103.0 599.8L1106.0 603.2L1109.0 606.7L1112.0 610.3L1115.0 613.8L1118.0 617.0L1121.0 620.0L1124.0 623.1L1127.0 626.2L1130.0 629.3L1133.0 632.5L1136.0 635.8L1139.0 639.1L1142.0 642.4L1145.0 645.8L1148.0 649.1L1151.0 652.5L1154.0 656.0L1157.0 659.6L1160.0 663.1L1163.0 666.4L1166.0 669.0L1169.0 671.3L1172.0 673.4L1175.0 675.6L1178.0 677.8L1181.0 680.2L1184.0 683.0L1187.0 686.0L1190.0 688.9L1193.0 691.7L1196.0 694.3L1199.0 696.8L1202.0 699.1L1205.0 701.2L1208.0 703.2L1211.0 705.3" fill="none" stroke="#5A0A18" stroke-width="2.2" stroke-linejoin="round"/><path d="M35 424.4L58.75 374.4C63.0 372.3 74.6 366.0 84.0 362.0C93.4 358.0 106.9 354.8 115.0 350.6C123.1 346.4 125.2 342.0 132.5 336.9C139.8 331.8 150.4 327.8 158.8 320.0C167.1 312.2 174.8 299.2 182.5 290.0C190.2 280.8 197.5 273.8 205.0 265.0C212.5 256.2 220.8 245.4 227.5 237.5C234.2 229.6 239.6 222.6 245.0 217.5C250.4 212.4 254.2 210.8 260.0 207.0C265.8 203.2 273.3 198.2 280.0 195.0C286.7 191.8 293.3 189.6 300.0 187.5C306.7 185.4 311.7 184.0 320.0 182.5C328.3 181.0 340.4 179.7 350.0 178.8C359.6 177.8 370.8 177.0 377.5 177.0C384.2 177.0 385.8 177.6 390.0 178.8C394.2 179.9 398.3 181.7 402.5 183.8C406.7 185.8 410.4 188.8 415.0 191.2C419.6 193.8 425.0 196.7 430.0 198.8C435.0 200.8 440.0 201.2 445.0 203.8C450.0 206.2 454.6 210.0 460.0 213.8C465.4 217.5 471.2 222.7 477.5 226.2C483.8 229.8 491.2 231.9 497.5 235.0C503.8 238.1 509.2 241.2 515.0 245.0C520.8 248.8 527.1 254.0 532.5 257.5C537.9 261.0 542.1 263.3 547.5 266.2C552.9 269.2 559.6 271.9 565.0 275.0C570.4 278.1 575.0 281.7 580.0 285.0C585.0 288.3 590.0 292.1 595.0 295.0C600.0 297.9 603.3 301.0 610.0 302.5C616.7 304.0 628.3 304.6 635.0 303.8C641.7 302.9 646.2 298.8 650.0 297.5C653.8 296.2 653.3 295.6 657.5 296.2C661.7 296.9 668.8 299.0 675.0 301.2C681.2 303.5 688.3 306.2 695.0 310.0C701.7 313.8 708.3 318.8 715.0 323.8C721.7 328.8 729.2 335.2 735.0 340.0C740.8 344.8 743.3 348.1 750.0 352.5C756.7 356.9 767.5 361.7 775.0 366.2C782.5 370.8 788.8 376.0 795.0 380.0C801.2 384.0 807.5 386.2 812.5 390.0C817.5 393.8 820.4 396.2 825.0 402.5C829.6 408.8 835.0 419.6 840.0 427.5C845.0 435.4 850.2 442.9 855.0 450.0C859.8 457.1 861.2 461.5 868.8 470.0C876.2 478.5 891.5 492.3 900.0 501.2C908.5 510.2 913.3 516.0 920.0 523.8C926.7 531.5 934.2 541.7 940.0 547.5C945.8 553.3 949.2 553.5 955.0 558.8C960.8 564.0 969.4 572.7 975.0 578.8C980.6 584.8 984.5 591.3 988.7 595.0C992.9 598.7 995.5 598.5 1000.0 601.0C1004.5 603.5 1010.9 607.6 1015.6 610.3C1020.3 613.0 1024.3 614.8 1028.0 617.3C1031.7 619.8 1033.8 621.4 1037.5 625.2C1041.2 629.0 1045.8 634.7 1050.0 640.0C1054.2 645.3 1057.8 650.5 1062.5 657.2C1067.2 664.0 1072.8 672.9 1078.0 680.5C1083.2 688.1 1088.7 695.1 1094.0 703.0C1099.3 710.9 1103.5 718.2 1110.0 728.0C1116.5 737.8 1125.4 751.2 1133.0 762.0C1140.6 772.8 1148.8 784.2 1155.8 793.0C1162.8 801.8 1169.9 809.3 1175.3 815.0C1180.7 820.7 1183.2 823.7 1188.0 827.0C1192.8 830.3 1199.2 833.8 1204.0 835.0C1208.8 836.2 1214.4 834.2 1216.5 834.0" fill="none" stroke="#22E022" stroke-width="2.6" stroke-linejoin="round"/><rect x="35" y="361" width="1" height="28" fill="#4A1020" shape-rendering="crispEdges"/><rect x="30.5" y="372.5" width="9" height="3" fill="#008000" stroke="#400818" stroke-width="1" shape-rendering="crispEdges"/><rect x="47" y="324" width="1" height="45" fill="#4A1020" shape-rendering="crispEdges"/><rect x="42.5" y="327.5" width="9" height="41" fill="#008000" stroke="#400818" stroke-width="1" shape-rendering="crispEdges"/><rect x="59" y="320" width="1" height="49" fill="#4A1020" shape-rendering="crispEdges"/><rect x="54.5" y="328.5" width="9" height="37" fill="#FF0000" stroke="#400818" stroke-width="1" shape-rendering="crispEdges"/><rect x="71" y="323" width="1" height="38" fill="#4A1020" shape-rendering="crispEdges"/><rect x="66.5" y="323.5" width="9" height="37" fill="#008000" stroke="#400818" stroke-width="1" shape-rendering="crispEdges"/><rect x="83" y="283" width="1" height="57" fill="#4A1020" shape-rendering="crispEdges"/><rect x="78.5" y="307.5" width="9" height="32" fill="#008000" stroke="#400818" stroke-width="1" shape-rendering="crispEdges"/><rect x="95" y="259" width="1" height="86" fill="#4A1020" shape-rendering="crispEdges"/><rect x="90.5" y="304.5" width="9" height="37" fill="#FF0000" stroke="#400818" stroke-width="1" shape-rendering="crispEdges"/><rect x="107" y="308" width="1" height="41" fill="#4A1020" shape-rendering="crispEdges"/><rect x="102.5" y="319.5" width="9" height="17" fill="#008000" stroke="#400818" stroke-width="1" shape-rendering="crispEdges"/><rect x="119" y="251" width="1" height="90" fill="#4A1020" shape-rendering="crispEdges"/><rect x="114.5" y="258.5" width="9" height="56" fill="#008000" stroke="#400818" stroke-width="1" shape-rendering="crispEdges"/><rect x="131" y="222" width="1" height="57" fill="#4A1020" shape-rendering="crispEdges"/><rect x="126.5" y="237.5" width="9" height="21" fill="#008000" stroke="#400818" stroke-width="1" shape-rendering="crispEdges"/><rect x="143" y="238" width="1" height="17" fill="#4A1020" shape-rendering="crispEdges"/><rect x="138" y="242" width="10" height="1" fill="#4A1020" shape-rendering="crispEdges"/><rect x="155" y="214" width="1" height="33" fill="#4A1020" shape-rendering="crispEdges"/><rect x="150.5" y="221.5" width="9" height="20" fill="#008000" stroke="#400818" stroke-width="1" shape-rendering="crispEdges"/><rect x="167" y="153" width="1" height="68" fill="#4A1020" shape-rendering="crispEdges"/><rect x="162.5" y="180.5" width="9" height="40" fill="#008000" stroke="#400818" stroke-width="1" shape-rendering="crispEdges"/><rect x="179" y="136" width="1" height="57" fill="#4A1020" shape-rendering="crispEdges"/><rect x="174.5" y="168.5" width="9" height="15" fill="#008000" stroke="#400818" stroke-width="1" shape-rendering="crispEdges"/><rect x="190" y="169" width="1" height="19" fill="#4A1020" shape-rendering="crispEdges"/><rect x="185.5" y="169.5" width="9" height="11" fill="#FF0000" stroke="#400818" stroke-width="1" shape-rendering="crispEdges"/><rect x="202" y="145" width="1" height="69" fill="#4A1020" shape-rendering="crispEdges"/><rect x="197.5" y="168.5" width="9" height="7" fill="#008000" stroke="#400818" stroke-width="1" shape-rendering="crispEdges"/><rect x="214" y="124" width="1" height="61" fill="#4A1020" shape-rendering="crispEdges"/><rect x="209.5" y="127.5" width="9" height="44" fill="#008000" stroke="#400818" stroke-width="1" shape-rendering="crispEdges"/><rect x="226" y="99" width="1" height="40" fill="#4A1020" shape-rendering="crispEdges"/><rect x="221.5" y="123.5" width="9" height="7" fill="#008000" stroke="#400818" stroke-width="1" shape-rendering="crispEdges"/><rect x="238" y="116" width="1" height="44" fill="#4A1020" shape-rendering="crispEdges"/><rect x="233.5" y="124.5" width="9" height="28" fill="#FF0000" stroke="#400818" stroke-width="1" shape-rendering="crispEdges"/><rect x="250" y="132" width="1" height="25" fill="#4A1020" shape-rendering="crispEdges"/><rect x="245.5" y="144.5" width="9" height="7" fill="#008000" stroke="#400818" stroke-width="1" shape-rendering="crispEdges"/><rect x="262" y="132" width="1" height="74" fill="#4A1020" shape-rendering="crispEdges"/><rect x="257.5" y="145.5" width="9" height="60" fill="#FF0000" stroke="#400818" stroke-width="1" shape-rendering="crispEdges"/><rect x="274" y="189" width="1" height="48" fill="#4A1020" shape-rendering="crispEdges"/><rect x="269" y="217" width="10" height="1" fill="#4A1020" shape-rendering="crispEdges"/><rect x="286" y="210" width="1" height="61" fill="#4A1020" shape-rendering="crispEdges"/><rect x="281.5" y="218.5" width="9" height="29" fill="#FF0000" stroke="#400818" stroke-width="1" shape-rendering="crispEdges"/><rect x="298" y="169" width="1" height="89" fill="#4A1020" shape-rendering="crispEdges"/><rect x="293.5" y="176.5" width="9" height="69" fill="#008000" stroke="#400818" stroke-width="1" shape-rendering="crispEdges"/><rect x="310" y="161" width="1" height="76" fill="#4A1020" shape-rendering="crispEdges"/><rect x="305.5" y="173.5" width="9" height="56" fill="#FF0000" stroke="#400818" stroke-width="1" shape-rendering="crispEdges"/><rect x="322" y="194" width="1" height="53" fill="#4A1020" shape-rendering="crispEdges"/><rect x="317.5" y="197.5" width="9" height="36" fill="#008000" stroke="#400818" stroke-width="1" shape-rendering="crispEdges"/><rect x="333" y="153" width="1" height="57" fill="#4A1020" shape-rendering="crispEdges"/><rect x="328.5" y="168.5" width="9" height="28" fill="#008000" stroke="#400818" stroke-width="1" shape-rendering="crispEdges"/><rect x="345" y="149" width="1" height="53" fill="#4A1020" shape-rendering="crispEdges"/><rect x="340.5" y="168.5" width="9" height="3" fill="#008000" stroke="#400818" stroke-width="1" shape-rendering="crispEdges"/><rect x="357" y="161" width="1" height="19" fill="#4A1020" shape-rendering="crispEdges"/><rect x="352" y="168" width="10" height="1" fill="#4A1020" shape-rendering="crispEdges"/><rect x="369" y="157" width="1" height="27" fill="#4A1020" shape-rendering="crispEdges"/><rect x="364.5" y="160.5" width="9" height="11" fill="#008000" stroke="#400818" stroke-width="1" shape-rendering="crispEdges"/><rect x="381" y="157" width="1" height="16" fill="#4A1020" shape-rendering="crispEdges"/><rect x="376.5" y="161.5" width="9" height="8" fill="#FF0000" stroke="#400818" stroke-width="1" shape-rendering="crispEdges"/><rect x="393" y="165" width="1" height="15" fill="#4A1020" shape-rendering="crispEdges"/><rect x="388" y="168" width="10" height="1" fill="#4A1020" shape-rendering="crispEdges"/><rect x="405" y="145" width="1" height="61" fill="#4A1020" shape-rendering="crispEdges"/><rect x="400.5" y="169.5" width="9" height="36" fill="#FF0000" stroke="#400818" stroke-width="1" shape-rendering="crispEdges"/><rect x="417" y="198" width="1" height="53" fill="#4A1020" shape-rendering="crispEdges"/><rect x="412.5" y="206.5" width="9" height="15" fill="#FF0000" stroke="#400818" stroke-width="1" shape-rendering="crispEdges"/><rect x="429" y="222" width="1" height="61" fill="#4A1020" shape-rendering="crispEdges"/><rect x="424.5" y="222.5" width="9" height="33" fill="#FF0000" stroke="#400818" stroke-width="1" shape-rendering="crispEdges"/><rect x="441" y="226" width="1" height="53" fill="#4A1020" shape-rendering="crispEdges"/><rect x="436.5" y="246.5" width="9" height="4" fill="#008000" stroke="#400818" stroke-width="1" shape-rendering="crispEdges"/><rect x="453" y="247" width="1" height="41" fill="#4A1020" shape-rendering="crispEdges"/><rect x="448.5" y="247.5" width="9" height="40" fill="#FF0000" stroke="#400818" stroke-width="1" shape-rendering="crispEdges"/><rect x="465" y="353" width="1" height="40" fill="#4A1020" shape-rendering="crispEdges"/><rect x="460.5" y="373.5" width="9" height="8" fill="#FF0000" stroke="#400818" stroke-width="1" shape-rendering="crispEdges"/><rect x="477" y="332" width="1" height="54" fill="#4A1020" shape-rendering="crispEdges"/><rect x="472.5" y="360.5" width="9" height="19" fill="#008000" stroke="#400818" stroke-width="1" shape-rendering="crispEdges"/><rect x="488" y="292" width="1" height="64" fill="#4A1020" shape-rendering="crispEdges"/><rect x="483.5" y="299.5" width="9" height="56" fill="#008000" stroke="#400818" stroke-width="1" shape-rendering="crispEdges"/><rect x="500" y="251" width="1" height="53" fill="#4A1020" shape-rendering="crispEdges"/><rect x="495.5" y="258.5" width="9" height="40" fill="#008000" stroke="#400818" stroke-width="1" shape-rendering="crispEdges"/><rect x="512" y="247" width="1" height="37" fill="#4A1020" shape-rendering="crispEdges"/><rect x="507.5" y="263.5" width="9" height="12" fill="#FF0000" stroke="#400818" stroke-width="1" shape-rendering="crispEdges"/><rect x="524" y="267" width="1" height="41" fill="#4A1020" shape-rendering="crispEdges"/><rect x="519.5" y="275.5" width="9" height="20" fill="#FF0000" stroke="#400818" stroke-width="1" shape-rendering="crispEdges"/><rect x="536" y="287" width="1" height="29" fill="#4A1020" shape-rendering="crispEdges"/><rect x="531.5" y="292.5" width="9" height="3" fill="#008000" stroke="#400818" stroke-width="1" shape-rendering="crispEdges"/><rect x="548" y="263" width="1" height="45" fill="#4A1020" shape-rendering="crispEdges"/><rect x="543.5" y="270.5" width="9" height="20" fill="#008000" stroke="#400818" stroke-width="1" shape-rendering="crispEdges"/><rect x="560" y="234" width="1" height="44" fill="#4A1020" shape-rendering="crispEdges"/><rect x="555.5" y="254.5" width="9" height="15" fill="#008000" stroke="#400818" stroke-width="1" shape-rendering="crispEdges"/><rect x="572" y="221" width="1" height="49" fill="#4A1020" shape-rendering="crispEdges"/><rect x="567" y="254" width="10" height="1" fill="#4A1020" shape-rendering="crispEdges"/><rect x="584" y="260" width="1" height="68" fill="#4A1020" shape-rendering="crispEdges"/><rect x="579.5" y="260.5" width="9" height="60" fill="#FF0000" stroke="#400818" stroke-width="1" shape-rendering="crispEdges"/><rect x="596" y="308" width="1" height="60" fill="#4A1020" shape-rendering="crispEdges"/><rect x="591.5" y="320.5" width="9" height="41" fill="#FF0000" stroke="#400818" stroke-width="1" shape-rendering="crispEdges"/><rect x="608" y="300" width="1" height="60" fill="#4A1020" shape-rendering="crispEdges"/><rect x="603.5" y="331.5" width="9" height="28" fill="#008000" stroke="#400818" stroke-width="1" shape-rendering="crispEdges"/><rect x="620" y="292" width="1" height="49" fill="#4A1020" shape-rendering="crispEdges"/><rect x="615.5" y="303.5" width="9" height="32" fill="#008000" stroke="#400818" stroke-width="1" shape-rendering="crispEdges"/><rect x="632" y="300" width="1" height="32" fill="#4A1020" shape-rendering="crispEdges"/><rect x="627.5" y="304.5" width="9" height="16" fill="#FF0000" stroke="#400818" stroke-width="1" shape-rendering="crispEdges"/><rect x="643" y="316" width="1" height="20" fill="#4A1020" shape-rendering="crispEdges"/><rect x="638.5" y="324.5" width="9" height="4" fill="#FF0000" stroke="#400818" stroke-width="1" shape-rendering="crispEdges"/><rect x="655" y="252" width="1" height="64" fill="#4A1020" shape-rendering="crispEdges"/><rect x="650.5" y="274.5" width="9" height="41" fill="#008000" stroke="#400818" stroke-width="1" shape-rendering="crispEdges"/><rect x="667" y="271" width="1" height="78" fill="#4A1020" shape-rendering="crispEdges"/><rect x="662.5" y="279.5" width="9" height="52" fill="#FF0000" stroke="#400818" stroke-width="1" shape-rendering="crispEdges"/><rect x="679" y="296" width="1" height="45" fill="#4A1020" shape-rendering="crispEdges"/><rect x="674.5" y="319.5" width="9" height="21" fill="#008000" stroke="#400818" stroke-width="1" shape-rendering="crispEdges"/><rect x="691" y="304" width="1" height="40" fill="#4A1020" shape-rendering="crispEdges"/><rect x="686.5" y="320.5" width="9" height="16" fill="#FF0000" stroke="#400818" stroke-width="1" shape-rendering="crispEdges"/><rect x="703" y="332" width="1" height="107" fill="#4A1020" shape-rendering="crispEdges"/><rect x="698.5" y="332.5" width="9" height="82" fill="#FF0000" stroke="#400818" stroke-width="1" shape-rendering="crispEdges"/><rect x="715" y="394" width="1" height="36" fill="#4A1020" shape-rendering="crispEdges"/><rect x="710.5" y="409.5" width="9" height="3" fill="#008000" stroke="#400818" stroke-width="1" shape-rendering="crispEdges"/><rect x="727" y="406" width="1" height="56" fill="#4A1020" shape-rendering="crispEdges"/><rect x="722.5" y="410.5" width="9" height="15" fill="#FF0000" stroke="#400818" stroke-width="1" shape-rendering="crispEdges"/><rect x="739" y="386" width="1" height="44" fill="#4A1020" shape-rendering="crispEdges"/><rect x="734.5" y="417.5" width="9" height="4" fill="#008000" stroke="#400818" stroke-width="1" shape-rendering="crispEdges"/><rect x="751" y="401" width="1" height="25" fill="#4A1020" shape-rendering="crispEdges"/><rect x="746.5" y="401.5" width="9" height="15" fill="#008000" stroke="#400818" stroke-width="1" shape-rendering="crispEdges"/><rect x="763" y="402" width="1" height="24" fill="#4A1020" shape-rendering="crispEdges"/><rect x="758.5" y="402.5" width="9" height="15" fill="#FF0000" stroke="#400818" stroke-width="1" shape-rendering="crispEdges"/><rect x="775" y="414" width="1" height="48" fill="#4A1020" shape-rendering="crispEdges"/><rect x="770.5" y="414.5" width="9" height="37" fill="#FF0000" stroke="#400818" stroke-width="1" shape-rendering="crispEdges"/><rect x="786" y="439" width="1" height="61" fill="#4A1020" shape-rendering="crispEdges"/><rect x="781.5" y="451.5" width="9" height="8" fill="#FF0000" stroke="#400818" stroke-width="1" shape-rendering="crispEdges"/><rect x="798" y="402" width="1" height="52" fill="#4A1020" shape-rendering="crispEdges"/><rect x="793.5" y="405.5" width="9" height="48" fill="#008000" stroke="#400818" stroke-width="1" shape-rendering="crispEdges"/><rect x="810" y="369" width="1" height="61" fill="#4A1020" shape-rendering="crispEdges"/><rect x="805" y="409" width="10" height="1" fill="#4A1020" shape-rendering="crispEdges"/><rect x="822" y="410" width="1" height="110" fill="#4A1020" shape-rendering="crispEdges"/><rect x="817.5" y="410.5" width="9" height="105" fill="#FF0000" stroke="#400818" stroke-width="1" shape-rendering="crispEdges"/><rect x="834" y="504" width="1" height="53" fill="#4A1020" shape-rendering="crispEdges"/><rect x="829.5" y="516.5" width="9" height="40" fill="#FF0000" stroke="#400818" stroke-width="1" shape-rendering="crispEdges"/><rect x="846" y="512" width="1" height="65" fill="#4A1020" shape-rendering="crispEdges"/><rect x="841.5" y="560.5" width="9" height="3" fill="#008000" stroke="#400818" stroke-width="1" shape-rendering="crispEdges"/><rect x="858" y="520" width="1" height="79" fill="#4A1020" shape-rendering="crispEdges"/><rect x="853.5" y="561.5" width="9" height="37" fill="#FF0000" stroke="#400818" stroke-width="1" shape-rendering="crispEdges"/><rect x="870" y="561" width="1" height="77" fill="#4A1020" shape-rendering="crispEdges"/><rect x="865.5" y="594.5" width="9" height="27" fill="#FF0000" stroke="#400818" stroke-width="1" shape-rendering="crispEdges"/><rect x="882" y="561" width="1" height="60" fill="#4A1020" shape-rendering="crispEdges"/><rect x="877.5" y="568.5" width="9" height="52" fill="#008000" stroke="#400818" stroke-width="1" shape-rendering="crispEdges"/><rect x="894" y="569" width="1" height="48" fill="#4A1020" shape-rendering="crispEdges"/><rect x="889.5" y="569.5" width="9" height="44" fill="#FF0000" stroke="#400818" stroke-width="1" shape-rendering="crispEdges"/><rect x="906" y="582" width="1" height="50" fill="#4A1020" shape-rendering="crispEdges"/><rect x="901.5" y="614.5" width="9" height="17" fill="#FF0000" stroke="#400818" stroke-width="1" shape-rendering="crispEdges"/><rect x="918" y="586" width="1" height="56" fill="#4A1020" shape-rendering="crispEdges"/><rect x="913.5" y="589.5" width="9" height="40" fill="#008000" stroke="#400818" stroke-width="1" shape-rendering="crispEdges"/><rect x="930" y="590" width="1" height="24" fill="#4A1020" shape-rendering="crispEdges"/><rect x="925.5" y="590.5" width="9" height="23" fill="#FF0000" stroke="#400818" stroke-width="1" shape-rendering="crispEdges"/><rect x="941" y="606" width="1" height="29" fill="#4A1020" shape-rendering="crispEdges"/><rect x="936.5" y="610.5" width="9" height="8" fill="#FF0000" stroke="#400818" stroke-width="1" shape-rendering="crispEdges"/><rect x="953" y="578" width="1" height="35" fill="#4A1020" shape-rendering="crispEdges"/><rect x="948.5" y="585.5" width="9" height="27" fill="#008000" stroke="#400818" stroke-width="1" shape-rendering="crispEdges"/><rect x="965" y="586" width="1" height="28" fill="#4A1020" shape-rendering="crispEdges"/><rect x="960.5" y="586.5" width="9" height="27" fill="#FF0000" stroke="#400818" stroke-width="1" shape-rendering="crispEdges"/><rect x="977" y="610" width="1" height="25" fill="#4A1020" shape-rendering="crispEdges"/><rect x="972.5" y="614.5" width="9" height="7" fill="#FF0000" stroke="#400818" stroke-width="1" shape-rendering="crispEdges"/><rect x="989" y="613" width="1" height="9" fill="#4A1020" shape-rendering="crispEdges"/><rect x="984.5" y="613.5" width="9" height="8" fill="#008000" stroke="#400818" stroke-width="1" shape-rendering="crispEdges"/><rect x="1001" y="614" width="1" height="56" fill="#4A1020" shape-rendering="crispEdges"/><rect x="996" y="617" width="10" height="1" fill="#4A1020" shape-rendering="crispEdges"/><rect x="1013" y="610" width="1" height="77" fill="#4A1020" shape-rendering="crispEdges"/><rect x="1008.5" y="622.5" width="9" height="21" fill="#FF0000" stroke="#400818" stroke-width="1" shape-rendering="crispEdges"/><rect x="1025" y="635" width="1" height="49" fill="#4A1020" shape-rendering="crispEdges"/><rect x="1020.5" y="643.5" width="9" height="40" fill="#FF0000" stroke="#400818" stroke-width="1" shape-rendering="crispEdges"/><rect x="1037" y="716" width="1" height="82" fill="#4A1020" shape-rendering="crispEdges"/><rect x="1032.5" y="729.5" width="9" height="23" fill="#FF0000" stroke="#400818" stroke-width="1" shape-rendering="crispEdges"/><rect x="1049" y="753" width="1" height="101" fill="#4A1020" shape-rendering="crispEdges"/><rect x="1044.5" y="757.5" width="9" height="57" fill="#FF0000" stroke="#400818" stroke-width="1" shape-rendering="crispEdges"/><rect x="1061" y="806" width="1" height="78" fill="#4A1020" shape-rendering="crispEdges"/><rect x="1056.5" y="806.5" width="9" height="48" fill="#FF0000" stroke="#400818" stroke-width="1" shape-rendering="crispEdges"/><rect x="1073" y="847" width="1" height="53" fill="#4A1020" shape-rendering="crispEdges"/><rect x="1068.5" y="851.5" width="9" height="33" fill="#FF0000" stroke="#400818" stroke-width="1" shape-rendering="crispEdges"/><rect x="1084" y="842" width="1" height="38" fill="#4A1020" shape-rendering="crispEdges"/><rect x="1079.5" y="862.5" width="9" height="17" fill="#008000" stroke="#400818" stroke-width="1" shape-rendering="crispEdges"/><rect x="1096" y="843" width="1" height="49" fill="#4A1020" shape-rendering="crispEdges"/><rect x="1091.5" y="858.5" width="9" height="9" fill="#008000" stroke="#400818" stroke-width="1" shape-rendering="crispEdges"/><rect x="1108" y="855" width="1" height="37" fill="#4A1020" shape-rendering="crispEdges"/><rect x="1103.5" y="860.5" width="9" height="12" fill="#FF0000" stroke="#400818" stroke-width="1" shape-rendering="crispEdges"/><rect x="1120" y="843" width="1" height="37" fill="#4A1020" shape-rendering="crispEdges"/><rect x="1115.5" y="858.5" width="9" height="12" fill="#008000" stroke="#400818" stroke-width="1" shape-rendering="crispEdges"/><rect x="1132" y="855" width="1" height="25" fill="#4A1020" shape-rendering="crispEdges"/><rect x="1127.5" y="860.5" width="9" height="12" fill="#FF0000" stroke="#400818" stroke-width="1" shape-rendering="crispEdges"/><rect x="1144" y="847" width="1" height="33" fill="#4A1020" shape-rendering="crispEdges"/><rect x="1139.5" y="858.5" width="9" height="12" fill="#008000" stroke="#400818" stroke-width="1" shape-rendering="crispEdges"/><rect x="1156" y="847" width="1" height="15" fill="#4A1020" shape-rendering="crispEdges"/><rect x="1151.5" y="855.5" width="9" height="4" fill="#FF0000" stroke="#400818" stroke-width="1" shape-rendering="crispEdges"/><rect x="1168" y="854" width="1" height="46" fill="#4A1020" shape-rendering="crispEdges"/><rect x="1163.5" y="854.5" width="9" height="3" fill="#008000" stroke="#400818" stroke-width="1" shape-rendering="crispEdges"/><rect x="1180" y="769" width="1" height="90" fill="#4A1020" shape-rendering="crispEdges"/><rect x="1175.5" y="769.5" width="9" height="84" fill="#008000" stroke="#400818" stroke-width="1" shape-rendering="crispEdges"/><rect x="1192" y="764" width="1" height="58" fill="#4A1020" shape-rendering="crispEdges"/><rect x="1187.5" y="770.5" width="9" height="39" fill="#FF0000" stroke="#400818" stroke-width="1" shape-rendering="crispEdges"/><rect x="1204" y="732" width="1" height="110" fill="#4A1020" shape-rendering="crispEdges"/><rect x="1199.5" y="756.5" width="9" height="56" fill="#008000" stroke="#400818" stroke-width="1" shape-rendering="crispEdges"/><rect x="1216" y="699" width="1" height="75" fill="#4A1020" shape-rendering="crispEdges"/><rect x="1211.5" y="699.5" width="9" height="60" fill="#008000" stroke="#400818" stroke-width="1" shape-rendering="crispEdges"/><line x1="35" y1="98.5" x2="1278" y2="98.5" stroke="#1C3058" shape-rendering="crispEdges"/><line x1="200" y1="103.5" x2="1278" y2="103.5" stroke="#1C3058" shape-rendering="crispEdges"/><line x1="35" y1="192.5" x2="1278" y2="192.5" stroke="#1C3058" shape-rendering="crispEdges"/><line x1="35" y1="291.5" x2="1278" y2="291.5" stroke="#1C3058" shape-rendering="crispEdges"/><line x1="35" y1="410.5" x2="1278" y2="410.5" stroke="#1C3058" shape-rendering="crispEdges"/><line x1="35" y1="507.5" x2="1278" y2="507.5" stroke="#1C3058" shape-rendering="crispEdges"/><line x1="35" y1="603.5" x2="1278" y2="603.5" stroke="#1C3058" shape-rendering="crispEdges"/><line x1="35" y1="385.5" x2="227" y2="385.5" stroke="#1C3058" shape-rendering="crispEdges"/><line x1="989.5" y1="86" x2="989.5" y2="914" stroke="#A040C8" shape-rendering="crispEdges"/><line x1="35" y1="347.6" x2="247" y2="98.75" stroke="#1C3058" stroke-width="1" shape-rendering="crispEdges"/><line x1="227" y1="98.75" x2="520" y2="172" stroke="#1C3058" stroke-width="1" shape-rendering="crispEdges"/><path d="M555 112H560V117.5H562L557.5 126L553 117.5H555Z" fill="#FF0000"/><rect x="1233.5" y="570.5" width="42" height="14" fill="#fff" stroke="#10207A" shape-rendering="crispEdges"/><text x="1254.5" y="580.5" text-anchor="middle" font-family="Liberation Sans" font-size="10.5" fill="#A01020">1816.76</text><rect x="1242.5" y="677.5" width="33" height="14" fill="#fff" stroke="#40A0D8" shape-rendering="crispEdges"/><text x="1259.0" y="687.5" text-anchor="middle" font-family="Liberation Sans" font-size="10.5" fill="#B02020">65672</text><rect x="1233.5" y="701.5" width="42" height="14" fill="#fff" stroke="#7A1020" shape-rendering="crispEdges"/><text x="1254.5" y="711.5" text-anchor="middle" font-family="Liberation Sans" font-size="10.5" fill="#A01020">1784.74</text><rect x="1248.5" y="692.5" width="27" height="14" fill="#fff" stroke="#FFA040" shape-rendering="crispEdges"/><text x="1262.0" y="702.5" text-anchor="middle" font-family="Liberation Sans" font-size="10.5" fill="#107010">1787</text><rect x="1233.5" y="825.5" width="42" height="15" fill="#fff" stroke="#30C030" shape-rendering="crispEdges"/><text x="1254.5" y="836.5" text-anchor="middle" font-family="Liberation Sans" font-size="10.5" fill="#104010">1754.53</text><rect x="32" y="915" width="1246" height="18" fill="#fff"/><rect x="31" y="914" width="1219" height="1" fill="#989898"/><rect x="31" y="926" width="1247" height="1" fill="#989898"/><rect x="35" y="911" width="1" height="15" fill="#989898"/><text x="38" y="923.6" font-family="Liberation Sans" font-size="10" fill="#1F6488">14:59</text><rect x="35" y="926" width="1" height="7" fill="#989898"/><text x="38" y="936" font-family="Liberation Sans" font-size="10" fill="#1F6488">5 ...</text><rect x="83" y="911" width="1" height="15" fill="#989898"/><text x="86" y="923.6" font-family="Liberation Sans" font-size="10" fill="#1F6488">8:59</text><rect x="83" y="926" width="1" height="7" fill="#989898"/><text x="86" y="936" font-family="Liberation Sans" font-size="10" fill="#1F6488">6 ...</text><rect x="131" y="911" width="1" height="15" fill="#989898"/><text x="134" y="923.6" font-family="Liberation Sans" font-size="10" fill="#1F6488">10:59</text><rect x="179" y="911" width="1" height="15" fill="#989898"/><text x="182" y="923.6" font-family="Liberation Sans" font-size="10" fill="#1F6488">12:59</text><rect x="226" y="911" width="1" height="15" fill="#989898"/><text x="229" y="923.6" font-family="Liberation Sans" font-size="10" fill="#1F6488">14:59</text><rect x="274" y="911" width="1" height="15" fill="#989898"/><text x="277" y="923.6" font-family="Liberation Sans" font-size="10" fill="#1F6488">8:59</text><rect x="274" y="926" width="1" height="7" fill="#989898"/><text x="277" y="936" font-family="Liberation Sans" font-size="10" fill="#1F6488">7 ...</text><rect x="322" y="911" width="1" height="15" fill="#989898"/><text x="325" y="923.6" font-family="Liberation Sans" font-size="10" fill="#1F6488">10:59</text><rect x="369" y="911" width="1" height="15" fill="#989898"/><text x="372" y="923.6" font-family="Liberation Sans" font-size="10" fill="#1F6488">12:59</text><rect x="417" y="911" width="1" height="15" fill="#989898"/><text x="420" y="923.6" font-family="Liberation Sans" font-size="10" fill="#1F6488">14:59</text><rect x="465" y="911" width="1" height="15" fill="#989898"/><text x="468" y="923.6" font-family="Liberation Sans" font-size="10" fill="#1F6488">8:59</text><rect x="465" y="926" width="1" height="7" fill="#989898"/><text x="468" y="936" font-family="Liberation Sans" font-size="10" fill="#1F6488">8 ...</text><rect x="512" y="911" width="1" height="15" fill="#989898"/><text x="515" y="923.6" font-family="Liberation Sans" font-size="10" fill="#1F6488">10:59</text><rect x="560" y="911" width="1" height="15" fill="#989898"/><text x="563" y="923.6" font-family="Liberation Sans" font-size="10" fill="#1F6488">12:59</text><rect x="608" y="911" width="1" height="15" fill="#989898"/><text x="611" y="923.6" font-family="Liberation Sans" font-size="10" fill="#1F6488">14:59</text><rect x="655" y="911" width="1" height="15" fill="#989898"/><text x="658" y="923.6" font-family="Liberation Sans" font-size="10" fill="#1F6488">8:59</text><rect x="655" y="926" width="1" height="7" fill="#989898"/><text x="658" y="936" font-family="Liberation Sans" font-size="10" fill="#1F6488">9 ...</text><rect x="703" y="911" width="1" height="15" fill="#989898"/><text x="706" y="923.6" font-family="Liberation Sans" font-size="10" fill="#1F6488">10:59</text><rect x="751" y="911" width="1" height="15" fill="#989898"/><text x="754" y="923.6" font-family="Liberation Sans" font-size="10" fill="#1F6488">12:59</text><rect x="798" y="911" width="1" height="15" fill="#989898"/><text x="801" y="923.6" font-family="Liberation Sans" font-size="10" fill="#1F6488">14:59</text><rect x="846" y="911" width="1" height="15" fill="#989898"/><text x="849" y="923.6" font-family="Liberation Sans" font-size="10" fill="#1F6488">8:59</text><rect x="846" y="926" width="1" height="7" fill="#989898"/><text x="849" y="936" font-family="Liberation Sans" font-size="10" fill="#1F6488">10 ...</text><rect x="894" y="911" width="1" height="15" fill="#989898"/><text x="897" y="923.6" font-family="Liberation Sans" font-size="10" fill="#1F6488">10:59</text><rect x="941" y="911" width="1" height="15" fill="#989898"/><text x="944" y="923.6" font-family="Liberation Sans" font-size="10" fill="#1F6488">12:59</text><rect x="989" y="911" width="1" height="15" fill="#989898"/><text x="992" y="923.6" font-family="Liberation Sans" font-size="10" fill="#1F6488">14:59</text><rect x="1037" y="911" width="1" height="15" fill="#989898"/><text x="1040" y="923.6" font-family="Liberation Sans" font-size="10" fill="#1F6488">8:59</text><rect x="1037" y="926" width="1" height="7" fill="#989898"/><text x="1040" y="936" font-family="Liberation Sans" font-size="10" fill="#1F6488">11 ...</text><rect x="1084" y="911" width="1" height="15" fill="#989898"/><text x="1087" y="923.6" font-family="Liberation Sans" font-size="10" fill="#1F6488">10:59</text><rect x="1132" y="911" width="1" height="15" fill="#989898"/><text x="1135" y="923.6" font-family="Liberation Sans" font-size="10" fill="#1F6488">12:59</text><rect x="1180" y="911" width="1" height="15" fill="#989898"/><text x="1183" y="923.6" font-family="Liberation Sans" font-size="10" fill="#1F6488">14:59</text></svg>
<div class="a" style="left:1278px;top:68px;width:2px;height:864px;background:#D8D8D8"></div>
<div class="a" style="left:703px;top:0;width:169px;height:65px;background:#D4D0C8"></div><div class="a" style="left:704px;top:0;width:1px;height:63px;background:#fff"></div><div class="a" style="left:870px;top:0;width:1px;height:63px;background:#808080"></div><div class="a" style="left:871px;top:0;width:1px;height:65px;background:#404040"></div><div class="a" style="left:704px;top:63px;width:167px;height:1px;background:#808080"></div><div class="a" style="left:703px;top:64px;width:169px;height:1px;background:#404040"></div><div class="a" style="left:706px;top:0;width:163px;height:14px;background:linear-gradient(to right,#808080,#C0C0C0)"></div><div class="tb" style="left:708px;top:1px;font-weight:bold;color:#D4D0C8;font-size:11px;line-height:13px;letter-spacing:0.5px">Dostosuj</div><div class="a" style="left:728px;top:20px;width:118px;height:8px;background:repeating-conic-gradient(#fff 0 25%,#D4D0C8 0 50%) 0 0/2px 2px"></div><div class="a" style="left:712px;top:20px;width:16px;height:8px;background:#D4D0C8;border-top:1px solid #fff;border-left:1px solid #fff;border-right:1px solid #404040;border-bottom:1px solid #404040;box-shadow:inset -1px -1px 0 #808080"></div><div class="a" style="left:719px;top:23px;width:2px;height:2px;background:#000"></div><div class="a" style="left:846px;top:20px;width:16px;height:8px;background:#D4D0C8;border-top:1px solid #fff;border-left:1px solid #fff;border-right:1px solid #404040;border-bottom:1px solid #404040;box-shadow:inset -1px -1px 0 #808080"></div><div class="a" style="left:853px;top:23px;width:2px;height:2px;background:#000"></div><div class="a" style="left:823px;top:20px;width:16px;height:8px;background:#D4D0C8;border-top:1px solid #fff;border-left:1px solid #fff;border-right:1px solid #404040;border-bottom:1px solid #404040;box-shadow:inset -1px -1px 0 #808080"></div><div class="a" style="left:728px;top:35px;width:118px;height:8px;background:repeating-conic-gradient(#fff 0 25%,#D4D0C8 0 50%) 0 0/2px 2px"></div><div class="a" style="left:712px;top:35px;width:16px;height:8px;background:#D4D0C8;border-top:1px solid #fff;border-left:1px solid #fff;border-right:1px solid #404040;border-bottom:1px solid #404040;box-shadow:inset -1px -1px 0 #808080"></div><div class="a" style="left:719px;top:38px;width:2px;height:2px;background:#000"></div><div class="a" style="left:846px;top:35px;width:16px;height:8px;background:#D4D0C8;border-top:1px solid #fff;border-left:1px solid #fff;border-right:1px solid #404040;border-bottom:1px solid #404040;box-shadow:inset -1px -1px 0 #808080"></div><div class="a" style="left:853px;top:38px;width:2px;height:2px;background:#000"></div><div class="a" style="left:830px;top:35px;width:16px;height:8px;background:#D4D0C8;border-top:1px solid #fff;border-left:1px solid #fff;border-right:1px solid #404040;border-bottom:1px solid #404040;box-shadow:inset -1px -1px 0 #808080"></div><div class="a" style="left:728px;top:49px;width:118px;height:8px;background:repeating-conic-gradient(#fff 0 25%,#D4D0C8 0 50%) 0 0/2px 2px"></div><div class="a" style="left:712px;top:49px;width:16px;height:8px;background:#D4D0C8;border-top:1px solid #fff;border-left:1px solid #fff;border-right:1px solid #404040;border-bottom:1px solid #404040;box-shadow:inset -1px -1px 0 #808080"></div><div class="a" style="left:719px;top:52px;width:2px;height:2px;background:#000"></div><div class="a" style="left:846px;top:49px;width:16px;height:8px;background:#D4D0C8;border-top:1px solid #fff;border-left:1px solid #fff;border-right:1px solid #404040;border-bottom:1px solid #404040;box-shadow:inset -1px -1px 0 #808080"></div><div class="a" style="left:853px;top:52px;width:2px;height:2px;background:#000"></div><div class="a" style="left:827px;top:49px;width:16px;height:8px;background:#D4D0C8;border-top:1px solid #fff;border-left:1px solid #fff;border-right:1px solid #404040;border-bottom:1px solid #404040;box-shadow:inset -1px -1px 0 #808080"></div>
<div class="a" style="left:0;top:932px;width:1280px;height:28px;background:#D4D0C8"></div><div class="a" style="left:0;top:933px;width:1280px;height:1px;background:#fff"></div><div class="tk" style="left:2px;width:52px;font-weight:bold;font-size:11.5px"><span class="a" style="left:19px;top:0;letter-spacing:0.5px">Start</span><svg class="a" style="left:1px;top:1px" width="17" height="17" viewBox="0 0 17 17"><path d="M3 1.5Q5.5 0.5 8.2 1.8L7.4 7.6Q4.8 6.4 2.1 7.4Z" fill="#F05A20"/><path d="M9.2 2.1Q12 3.3 15.6 1.8L14.8 7.6Q11.6 8.9 8.4 7.8Z" fill="#60C030"/><path d="M2 8.5Q4.6 7.5 7.3 8.7L6.5 14.5Q3.9 13.3 1.1 14.4Z" fill="#3070E0"/><path d="M8.3 8.9Q11.3 10.1 14.7 8.7L13.9 14.5Q10.6 15.8 7.5 14.7Z" fill="#F8C818"/></svg></div><svg class="a" style="left:61px;top:938px" width="17" height="17" viewBox="0 0 17 17"><rect x="1.5" y="1.5" width="13" height="13" rx="2" fill="#60A0F0" stroke="#2050B0"/><rect x="4" y="4" width="8" height="8" fill="#fff"/><path d="M6 10L11 5" stroke="#2050B0" stroke-width="1.5"/><circle cx="15" cy="8" r="1.3" fill="#E06000"/></svg><svg class="a" style="left:85px;top:938px" width="16" height="16" viewBox="0 0 16 16"><circle cx="8" cy="8" r="7" fill="#3060C0"/><path d="M2 8Q3 4 7 3Q5 6 8 8Q11 9 14 7Q13 12 8 13Q3 13 2 8Z" fill="#C8D8F0"/><ellipse cx="7.5" cy="9.5" rx="4" ry="2" fill="#E0E8F8"/></svg><div class="a" style="left:104px;top:936px"><svg class="a" style="left:4px;top:2px" width="17" height="17" viewBox="0 0 17 17"><circle cx="8.5" cy="8.5" r="7.5" fill="#E06A10"/><circle cx="9.5" cy="7.5" r="4.6" fill="#2A6CC8"/><path d="M6 4Q9 1.5 12 3Q10 4 9.5 6Q8 9 11 10Q9 12 6 11Q4 8 6 4Z" fill="#F08A20"/><path d="M1.5 9Q3 15 9 15.5Q14 15 15.5 10Q13 14 8.5 14Q3.5 14 1.5 9Z" fill="#B84A08"/></svg></div><svg class="a" style="left:136px;top:941px" width="9" height="6" viewBox="0 0 9 6"><path d="M0.5 0.5L3 3L0.5 5.5M4.5 0.5L7 3L4.5 5.5" stroke="#000" stroke-width="1.5" fill="none"/></svg><div class="tk" style="left:148px;width:156px;background:repeating-conic-gradient(#fff 0 25%,#D4D0C8 0 50%) 0 0/2px 2px;border-top:1px solid #404040;border-left:1px solid #404040;border-right:1px solid #fff;border-bottom:1px solid #fff;box-shadow:inset 1px 1px 0 #808080;font-weight:bold"><svg class="a" style="left:5px;top:4px" width="16" height="16" viewBox="0 0 16 16"><rect width="16" height="16" fill="#F4FFFC"/><circle cx="8" cy="8" r="7" fill="#9FE8C8" stroke="#107050" stroke-width="1.4"/><path d="M8 2.6 L9.6 4.6 L12.2 4.4 L12 7 L13.4 9 L11.2 10.4 L10.6 13 L8 11.8 L5.4 13 L4.8 10.4 L2.6 9 L4 7 L3.8 4.4 L6.4 4.6Z" fill="#0C7A3C"/></svg><span class="a" style="left:26px;top:0;letter-spacing:0.4px">Notowania 3 PRO</span></div><div class="tk" style="left:307px;width:157px"><svg class="a" style="left:4px;top:2px" width="17" height="17" viewBox="0 0 17 17"><circle cx="8.5" cy="8.5" r="7.5" fill="#E06A10"/><circle cx="9.5" cy="7.5" r="4.6" fill="#2A6CC8"/><path d="M6 4Q9 1.5 12 3Q10 4 9.5 6Q8 9 11 10Q9 12 6 11Q4 8 6 4Z" fill="#F08A20"/><path d="M1.5 9Q3 15 9 15.5Q14 15 15.5 10Q13 14 8.5 14Q3.5 14 1.5 9Z" fill="#B84A08"/></svg><span class="a" style="left:22px;top:0;letter-spacing:0px">iFutures.pl :: Zmień post...</span></div><div class="tk" style="left:467px;width:157px"><svg class="a" style="left:4px;top:2px" width="17" height="17" viewBox="0 0 17 17"><circle cx="8.5" cy="8.5" r="7.5" fill="#E06A10"/><circle cx="9.5" cy="7.5" r="4.6" fill="#2A6CC8"/><path d="M6 4Q9 1.5 12 3Q10 4 9.5 6Q8 9 11 10Q9 12 6 11Q4 8 6 4Z" fill="#F08A20"/><path d="M1.5 9Q3 15 9 15.5Q14 15 15.5 10Q13 14 8.5 14Q3.5 14 1.5 9Z" fill="#B84A08"/></svg><span class="a" style="left:22px;top:0;letter-spacing:0px">Onet.pl - Polski Portal In...</span></div><div class="tk" style="left:627px;width:157px"><svg class="a" style="left:4px;top:3px" width="16" height="16" viewBox="0 0 16 16"><path d="M1 2H6V14H1Z" fill="#808080" stroke="#000"/><path d="M6 3L11 2V13L6 14Z" fill="#D0D0D0" stroke="#000"/><path d="M11 4H15V13H11" fill="#606060" stroke="#000"/></svg><span class="a" style="left:22px;top:0;letter-spacing:0px">CH.13</span></div><div class="tk" style="left:787px;width:157px"><svg class="a" style="left:4px;top:3px" width="16" height="16" viewBox="0 0 16 16"><rect x="0.5" y="1.5" width="15" height="13" fill="#103040" stroke="#000"/><rect x="2" y="3" width="12" height="10" fill="#30C0D0"/><circle cx="8" cy="8" r="3" fill="#103040"/></svg><span class="a" style="left:22px;top:0;letter-spacing:0px">IvCAP</span></div><div class="tk" style="left:947px;width:157px"><svg class="a" style="left:4px;top:3px" width="17" height="16" viewBox="0 0 17 16"><rect x="0.5" y="0.5" width="16" height="15" fill="#F8E8C0" stroke="#C0A070"/><circle cx="8.5" cy="8" r="5" fill="none" stroke="#F08020" stroke-width="2"/><circle cx="8.5" cy="8" r="2" fill="#F05020"/></svg><span class="a" style="left:22px;top:0;letter-spacing:0px">XnView - [Browser - C:\...</span></div><div class="a" style="left:1112px;top:936px;width:166px;height:22px;border-top:1px solid #808080;border-left:1px solid #808080;border-right:1px solid #fff;border-bottom:1px solid #fff"></div><svg class="a" style="left:1116px;top:942px" width="8" height="8" viewBox="0 0 8 8"><path d="M3.5 0.5L1 3.5L3.5 6.5M7 0.5L4.5 3.5L7 6.5" stroke="#000" stroke-width="1.5" fill="none"/></svg><svg class="a" style="left:1129px;top:938px" width="17" height="17" viewBox="0 0 17 17"><rect width="17" height="17" fill="#000820"/><ellipse cx="8.5" cy="8.5" rx="7" ry="5" fill="#3070D0"/><path d="M3 9Q8 5 14 8" stroke="#fff" stroke-width="1.5" fill="none"/></svg><svg class="a" style="left:1147px;top:938px" width="16" height="17" viewBox="0 0 16 17"><path d="M4 15Q1 10 3 6Q5 2 9 3Q12 4 11 8Q14 9 13 13Q11 16 7 15Z" fill="#C87830" stroke="#6A3010"/></svg><svg class="a" style="left:1166px;top:938px" width="15" height="17" viewBox="0 0 15 17"><path d="M7.5 1L14 3.5V8Q14 13 7.5 16Q1 13 1 8V3.5Z" fill="#F0D020" stroke="#806000"/><rect x="6.7" y="5" width="1.6" height="6" fill="#000"/><rect x="6.7" y="12" width="1.6" height="1.6" fill="#000"/></svg><svg class="a" style="left:1183px;top:939px" width="17" height="15" viewBox="0 0 18 15"><rect width="18" height="15" fill="#E01010"/><text x="1" y="12" font-family="Liberation Sans" font-weight="bold" font-style="italic" font-size="10" fill="#fff">ATI</text></svg><svg class="a" style="left:1201px;top:938px" width="17" height="17" viewBox="0 0 17 17"><rect x="0.5" y="0.5" width="16" height="16" fill="#F8F0C0" stroke="#C0A040"/><rect x="4" y="3" width="2" height="11" fill="#2050A0"/><rect x="11" y="3" width="2" height="11" fill="#2050A0"/><rect x="7.5" y="5" width="2" height="7" fill="#2050A0"/></svg><svg class="a" style="left:1219px;top:938px" width="17" height="17" viewBox="0 0 17 17"><rect x="1" y="2" width="15" height="14" rx="2" fill="#D02020" stroke="#602020"/><rect x="7.5" y="5" width="2" height="6" fill="#fff"/><rect x="7.5" y="12" width="2" height="2" fill="#fff"/></svg><div class="a" style="left:1242px;top:940px;font-size:11px;line-height:13px">20:59</div>
</body></html>
